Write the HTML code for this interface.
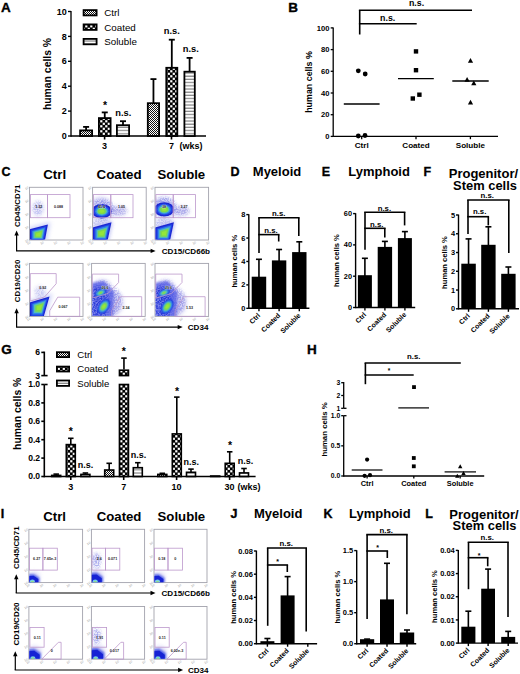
<!DOCTYPE html>
<html><head><meta charset="utf-8"><style>
html,body{margin:0;padding:0;background:#fff;width:520px;height:674px;overflow:hidden}
svg{display:block}
text{font-family:"Liberation Sans",sans-serif}
</style></head><body>
<svg width="520" height="674" viewBox="0 0 520 674">
<rect width="520" height="674" fill="#fff"/>
<defs>
<pattern id="pCtrl" width="2" height="2" patternUnits="userSpaceOnUse"><rect width="2" height="2" fill="#fff"/><rect width="1" height="1" fill="#111"/><rect x="1" y="1" width="1" height="1" fill="#111"/></pattern>
<pattern id="pCoat" width="5" height="5" patternUnits="userSpaceOnUse"><rect width="5" height="5" fill="#000"/><rect x="0.2" y="0.2" width="2.2" height="2.2" fill="#fff"/><rect x="2.7" y="2.7" width="2.2" height="2.2" fill="#fff"/></pattern>
<pattern id="pSol" width="3" height="3.2" patternUnits="userSpaceOnUse"><rect width="3" height="3.2" fill="#fff"/><rect y="2" width="3" height="1.2" fill="#858585"/></pattern>
<filter id="blur1" x="-50%" y="-50%" width="200%" height="200%"><feGaussianBlur stdDeviation="0.9"/></filter>
<filter id="blur2" x="-50%" y="-50%" width="200%" height="200%"><feGaussianBlur stdDeviation="0.55"/></filter>
<filter id="blur3" x="-50%" y="-50%" width="200%" height="200%"><feGaussianBlur stdDeviation="2"/></filter>
<filter id="speck" x="-30%" y="-30%" width="160%" height="160%"><feGaussianBlur in="SourceGraphic" stdDeviation="1.8" result="b"/><feTurbulence type="fractalNoise" baseFrequency="0.75" numOctaves="2" seed="7" result="n"/><feColorMatrix in="n" type="matrix" values="0 0 0 0 0  0 0 0 0 0  0 0 0 0 0  0 0 0 3.2 -1.1" result="m"/><feComposite in="b" in2="m" operator="in" result="s"/><feGaussianBlur in="s" stdDeviation="0.35"/></filter>
</defs>
<text x="5.80" y="11.84" font-size="13.5" font-weight="bold" text-anchor="middle" fill="#000" stroke="#000" stroke-width="0.35">A</text>
<line x1="71.00" y1="11.12" x2="71.00" y2="136.68" stroke="#000" stroke-width="1.35"/>
<line x1="68.00" y1="136.00" x2="71.00" y2="136.00" stroke="#000" stroke-width="1.35"/>
<text x="66.80" y="139.10" font-size="9" font-weight="bold" text-anchor="end" fill="#000">0</text>
<line x1="68.00" y1="111.10" x2="71.00" y2="111.10" stroke="#000" stroke-width="1.35"/>
<text x="66.80" y="114.20" font-size="9" font-weight="bold" text-anchor="end" fill="#000">2</text>
<line x1="68.00" y1="86.20" x2="71.00" y2="86.20" stroke="#000" stroke-width="1.35"/>
<text x="66.80" y="89.30" font-size="9" font-weight="bold" text-anchor="end" fill="#000">4</text>
<line x1="68.00" y1="61.30" x2="71.00" y2="61.30" stroke="#000" stroke-width="1.35"/>
<text x="66.80" y="64.40" font-size="9" font-weight="bold" text-anchor="end" fill="#000">6</text>
<line x1="68.00" y1="36.40" x2="71.00" y2="36.40" stroke="#000" stroke-width="1.35"/>
<text x="66.80" y="39.50" font-size="9" font-weight="bold" text-anchor="end" fill="#000">8</text>
<line x1="68.00" y1="11.50" x2="71.00" y2="11.50" stroke="#000" stroke-width="1.35"/>
<text x="66.80" y="14.60" font-size="9" font-weight="bold" text-anchor="end" fill="#000">10</text>
<line x1="71.00" y1="136.00" x2="206.00" y2="136.00" stroke="#000" stroke-width="1.35"/>
<line x1="104.60" y1="136.00" x2="104.60" y2="139.50" stroke="#000" stroke-width="1.6"/>
<line x1="171.50" y1="136.00" x2="171.50" y2="139.50" stroke="#000" stroke-width="1.6"/>
<text x="104.60" y="149.10" font-size="9" font-weight="bold" text-anchor="middle" fill="#000">3</text>
<text x="171.50" y="149.10" font-size="9" font-weight="bold" text-anchor="middle" fill="#000">7</text>
<text x="191.00" y="149.10" font-size="9" font-weight="bold" text-anchor="middle" fill="#000">(wks)</text>
<text x="47.80" y="77.58" font-size="10.4" font-weight="bold" text-anchor="middle" fill="#000" transform="rotate(-90 47.80 74.00)">human cells %</text>
<rect x="83.60" y="10.10" width="13.00" height="5.30" fill="url(#pCtrl)" stroke="#000" stroke-width="1.8"/>
<text x="104.20" y="16.12" font-size="9.8" font-weight="normal" text-anchor="start" fill="#000">Ctrl</text>
<rect x="83.60" y="24.40" width="13.00" height="5.50" fill="url(#pCoat)" stroke="#000" stroke-width="1.8"/>
<text x="104.20" y="30.52" font-size="9.8" font-weight="normal" text-anchor="start" fill="#000">Coated</text>
<rect x="83.60" y="38.90" width="13.00" height="5.40" fill="url(#pSol)" stroke="#000" stroke-width="1.8"/>
<text x="104.20" y="44.97" font-size="9.8" font-weight="normal" text-anchor="start" fill="#000">Soluble</text>
<line x1="86.10" y1="130.50" x2="86.10" y2="126.90" stroke="#000" stroke-width="1.8"/>
<line x1="83.10" y1="126.90" x2="89.10" y2="126.90" stroke="#000" stroke-width="1.8"/>
<rect x="80.10" y="130.40" width="12.00" height="5.60" fill="url(#pCtrl)" stroke="#000" stroke-width="1.8"/>
<line x1="104.75" y1="118.20" x2="104.75" y2="112.40" stroke="#000" stroke-width="1.8"/>
<line x1="101.75" y1="112.40" x2="107.75" y2="112.40" stroke="#000" stroke-width="1.8"/>
<rect x="98.90" y="118.10" width="11.70" height="17.90" fill="url(#pCoat)" stroke="#000" stroke-width="1.8"/>
<line x1="123.00" y1="125.30" x2="123.00" y2="121.20" stroke="#000" stroke-width="1.8"/>
<line x1="120.00" y1="121.20" x2="126.00" y2="121.20" stroke="#000" stroke-width="1.8"/>
<rect x="116.90" y="125.20" width="12.20" height="10.80" fill="url(#pSol)" stroke="#000" stroke-width="1.8"/>
<line x1="153.45" y1="103.30" x2="153.45" y2="79.10" stroke="#000" stroke-width="1.8"/>
<line x1="150.45" y1="79.10" x2="156.45" y2="79.10" stroke="#000" stroke-width="1.8"/>
<rect x="147.80" y="103.20" width="11.30" height="32.80" fill="url(#pCtrl)" stroke="#000" stroke-width="1.8"/>
<line x1="171.80" y1="67.90" x2="171.80" y2="39.70" stroke="#000" stroke-width="1.8"/>
<line x1="168.80" y1="39.70" x2="174.80" y2="39.70" stroke="#000" stroke-width="1.8"/>
<rect x="166.30" y="67.80" width="11.00" height="68.20" fill="url(#pCoat)" stroke="#000" stroke-width="1.8"/>
<line x1="189.60" y1="71.80" x2="189.60" y2="57.90" stroke="#000" stroke-width="1.8"/>
<line x1="186.60" y1="57.90" x2="192.60" y2="57.90" stroke="#000" stroke-width="1.8"/>
<rect x="184.40" y="71.70" width="10.40" height="64.30" fill="url(#pSol)" stroke="#000" stroke-width="1.8"/>
<text x="105.00" y="109.07" font-size="10.5" font-weight="bold" text-anchor="middle" fill="#000">*</text>
<text x="123.30" y="116.01" font-size="9.3" font-weight="bold" text-anchor="middle" fill="#000">n.s.</text>
<text x="171.80" y="33.51" font-size="9.3" font-weight="bold" text-anchor="middle" fill="#000">n.s.</text>
<text x="190.80" y="52.01" font-size="9.3" font-weight="bold" text-anchor="middle" fill="#000">n.s.</text>
<text x="293.20" y="12.44" font-size="13.5" font-weight="bold" text-anchor="middle" fill="#000" stroke="#000" stroke-width="0.35">B</text>
<line x1="333.20" y1="27.55" x2="333.20" y2="137.05" stroke="#000" stroke-width="1.3"/>
<line x1="330.70" y1="136.40" x2="333.20" y2="136.40" stroke="#000" stroke-width="1.3"/>
<text x="329.50" y="139.01" font-size="7.6" font-weight="bold" text-anchor="end" fill="#000">0</text>
<line x1="330.70" y1="114.70" x2="333.20" y2="114.70" stroke="#000" stroke-width="1.3"/>
<text x="329.50" y="117.31" font-size="7.6" font-weight="bold" text-anchor="end" fill="#000">20</text>
<line x1="330.70" y1="93.00" x2="333.20" y2="93.00" stroke="#000" stroke-width="1.3"/>
<text x="329.50" y="95.61" font-size="7.6" font-weight="bold" text-anchor="end" fill="#000">40</text>
<line x1="330.70" y1="71.30" x2="333.20" y2="71.30" stroke="#000" stroke-width="1.3"/>
<text x="329.50" y="73.91" font-size="7.6" font-weight="bold" text-anchor="end" fill="#000">60</text>
<line x1="330.70" y1="49.60" x2="333.20" y2="49.60" stroke="#000" stroke-width="1.3"/>
<text x="329.50" y="52.21" font-size="7.6" font-weight="bold" text-anchor="end" fill="#000">80</text>
<line x1="330.70" y1="27.90" x2="333.20" y2="27.90" stroke="#000" stroke-width="1.3"/>
<text x="329.50" y="30.51" font-size="7.6" font-weight="bold" text-anchor="end" fill="#000">100</text>
<line x1="333.20" y1="136.40" x2="498.00" y2="136.40" stroke="#000" stroke-width="1.3"/>
<line x1="361.70" y1="136.40" x2="361.70" y2="139.20" stroke="#000" stroke-width="1.3"/>
<text x="361.70" y="148.39" font-size="8.1" font-weight="bold" text-anchor="middle" fill="#000">Ctrl</text>
<line x1="416.00" y1="136.40" x2="416.00" y2="139.20" stroke="#000" stroke-width="1.3"/>
<text x="416.00" y="148.39" font-size="8.1" font-weight="bold" text-anchor="middle" fill="#000">Coated</text>
<line x1="470.40" y1="136.40" x2="470.40" y2="139.20" stroke="#000" stroke-width="1.3"/>
<text x="470.40" y="148.39" font-size="8.1" font-weight="bold" text-anchor="middle" fill="#000">Soluble</text>
<text x="309.20" y="85.06" font-size="8.9" font-weight="bold" text-anchor="middle" fill="#000" transform="rotate(-90 309.20 82.00)">human cells %</text>
<line x1="359.70" y1="10.20" x2="359.70" y2="34.50" stroke="#000" stroke-width="1.6"/>
<line x1="358.90" y1="10.20" x2="472.00" y2="10.20" stroke="#000" stroke-width="1.6"/>
<line x1="358.90" y1="23.70" x2="416.70" y2="23.70" stroke="#000" stroke-width="1.6"/>
<text x="416.50" y="5.78" font-size="8.8" font-weight="bold" text-anchor="middle" fill="#000">n.s.</text>
<text x="387.70" y="20.68" font-size="8.8" font-weight="bold" text-anchor="middle" fill="#000">n.s.</text>
<circle cx="358.3" cy="70.8" r="2.4" fill="#000"/>
<circle cx="365.2" cy="74" r="2.4" fill="#000"/>
<circle cx="358.3" cy="136" r="2.4" fill="#000"/>
<circle cx="365" cy="135.5" r="2.4" fill="#000"/>
<line x1="343.80" y1="104.00" x2="379.60" y2="104.00" stroke="#000" stroke-width="1.3"/>
<rect x="413.80" y="49.20" width="4.40" height="4.40" fill="#000" stroke="none" stroke-width="0"/>
<rect x="413.80" y="68.00" width="4.40" height="4.40" fill="#000" stroke="none" stroke-width="0"/>
<rect x="410.60" y="96.30" width="4.40" height="4.40" fill="#000" stroke="none" stroke-width="0"/>
<rect x="417.20" y="92.50" width="4.40" height="4.40" fill="#000" stroke="none" stroke-width="0"/>
<line x1="398.00" y1="78.60" x2="433.80" y2="78.60" stroke="#000" stroke-width="1.3"/>
<path d="M470.50,58.00 L473.10,62.70 L467.90,62.70 Z" fill="#000"/>
<path d="M467.10,77.00 L469.70,81.70 L464.50,81.70 Z" fill="#000"/>
<path d="M473.80,80.50 L476.40,85.20 L471.20,85.20 Z" fill="#000"/>
<path d="M470.50,99.70 L473.10,104.40 L467.90,104.40 Z" fill="#000"/>
<line x1="452.30" y1="81.00" x2="488.70" y2="81.00" stroke="#000" stroke-width="1.3"/>
<text x="234.90" y="175.90" font-size="12.5" font-weight="bold" text-anchor="middle" fill="#000" stroke="#000" stroke-width="0.35">D</text>
<text x="252.80" y="176.07" font-size="13" font-weight="bold" text-anchor="start" fill="#000">Myeloid</text>
<line x1="248.80" y1="214.20" x2="248.80" y2="309.00" stroke="#000" stroke-width="1.4"/>
<line x1="246.30" y1="308.30" x2="248.80" y2="308.30" stroke="#000" stroke-width="1.4"/>
<text x="245.30" y="310.85" font-size="7.4" font-weight="bold" text-anchor="end" fill="#000">0</text>
<line x1="246.30" y1="284.88" x2="248.80" y2="284.88" stroke="#000" stroke-width="1.4"/>
<text x="245.30" y="287.42" font-size="7.4" font-weight="bold" text-anchor="end" fill="#000">2</text>
<line x1="246.30" y1="261.45" x2="248.80" y2="261.45" stroke="#000" stroke-width="1.4"/>
<text x="245.30" y="264.00" font-size="7.4" font-weight="bold" text-anchor="end" fill="#000">4</text>
<line x1="246.30" y1="238.03" x2="248.80" y2="238.03" stroke="#000" stroke-width="1.4"/>
<text x="245.30" y="240.57" font-size="7.4" font-weight="bold" text-anchor="end" fill="#000">6</text>
<line x1="246.30" y1="214.60" x2="248.80" y2="214.60" stroke="#000" stroke-width="1.4"/>
<text x="245.30" y="217.15" font-size="7.4" font-weight="bold" text-anchor="end" fill="#000">8</text>
<line x1="248.80" y1="308.30" x2="309.40" y2="308.30" stroke="#000" stroke-width="1.4"/>
<line x1="258.95" y1="308.30" x2="258.95" y2="311.30" stroke="#000" stroke-width="1.4"/>
<line x1="258.95" y1="277.70" x2="258.95" y2="259.30" stroke="#000" stroke-width="1.6"/>
<line x1="255.95" y1="259.30" x2="261.95" y2="259.30" stroke="#000" stroke-width="1.6"/>
<rect x="251.70" y="276.70" width="14.50" height="31.60" fill="#000" stroke="none" stroke-width="0"/>
<line x1="279.10" y1="308.30" x2="279.10" y2="311.30" stroke="#000" stroke-width="1.4"/>
<line x1="279.10" y1="261.40" x2="279.10" y2="249.50" stroke="#000" stroke-width="1.6"/>
<line x1="276.10" y1="249.50" x2="282.10" y2="249.50" stroke="#000" stroke-width="1.6"/>
<rect x="271.90" y="260.40" width="14.40" height="47.90" fill="#000" stroke="none" stroke-width="0"/>
<line x1="299.30" y1="308.30" x2="299.30" y2="311.30" stroke="#000" stroke-width="1.4"/>
<line x1="299.30" y1="253.10" x2="299.30" y2="241.80" stroke="#000" stroke-width="1.6"/>
<line x1="296.30" y1="241.80" x2="302.30" y2="241.80" stroke="#000" stroke-width="1.6"/>
<rect x="292.10" y="252.10" width="14.40" height="56.20" fill="#000" stroke="none" stroke-width="0"/>
<text x="260.75" y="315.90" font-size="7.0" font-weight="bold" text-anchor="end" transform="rotate(-45 260.75 315.90)">Ctrl</text>
<text x="280.90" y="315.90" font-size="7.0" font-weight="bold" text-anchor="end" transform="rotate(-45 280.90 315.90)">Coated</text>
<text x="301.10" y="315.90" font-size="7.0" font-weight="bold" text-anchor="end" transform="rotate(-45 301.10 315.90)">Soluble</text>
<line x1="259.00" y1="217.70" x2="259.00" y2="253.00" stroke="#000" stroke-width="1.6"/>
<line x1="258.20" y1="217.70" x2="299.60" y2="217.70" stroke="#000" stroke-width="1.6"/>
<line x1="298.80" y1="217.70" x2="298.80" y2="236.00" stroke="#000" stroke-width="1.6"/>
<line x1="258.20" y1="234.60" x2="279.50" y2="234.60" stroke="#000" stroke-width="1.6"/>
<line x1="278.70" y1="234.60" x2="278.70" y2="241.50" stroke="#000" stroke-width="1.6"/>
<text x="234.90" y="263.81" font-size="7.6" font-weight="bold" text-anchor="middle" fill="#000" transform="rotate(-90 234.90 261.20)">human cells %</text>
<text x="278.70" y="216.31" font-size="7.8" font-weight="bold" text-anchor="middle" fill="#000">n.s.</text>
<text x="271.00" y="232.91" font-size="7.8" font-weight="bold" text-anchor="middle" fill="#000">n.s.</text>
<text x="326.00" y="175.90" font-size="12.5" font-weight="bold" text-anchor="middle" fill="#000" stroke="#000" stroke-width="0.35">E</text>
<text x="348.30" y="176.07" font-size="13" font-weight="bold" text-anchor="start" fill="#000">Lymphoid</text>
<line x1="355.60" y1="213.20" x2="355.60" y2="308.20" stroke="#000" stroke-width="1.4"/>
<line x1="353.10" y1="307.50" x2="355.60" y2="307.50" stroke="#000" stroke-width="1.4"/>
<text x="352.10" y="310.05" font-size="7.4" font-weight="bold" text-anchor="end" fill="#000">0</text>
<line x1="353.10" y1="276.20" x2="355.60" y2="276.20" stroke="#000" stroke-width="1.4"/>
<text x="352.10" y="278.75" font-size="7.4" font-weight="bold" text-anchor="end" fill="#000">20</text>
<line x1="353.10" y1="244.90" x2="355.60" y2="244.90" stroke="#000" stroke-width="1.4"/>
<text x="352.10" y="247.45" font-size="7.4" font-weight="bold" text-anchor="end" fill="#000">40</text>
<line x1="353.10" y1="213.60" x2="355.60" y2="213.60" stroke="#000" stroke-width="1.4"/>
<text x="352.10" y="216.15" font-size="7.4" font-weight="bold" text-anchor="end" fill="#000">60</text>
<line x1="355.60" y1="307.50" x2="415.20" y2="307.50" stroke="#000" stroke-width="1.4"/>
<line x1="364.90" y1="307.50" x2="364.90" y2="310.50" stroke="#000" stroke-width="1.4"/>
<line x1="364.90" y1="276.20" x2="364.90" y2="258.30" stroke="#000" stroke-width="1.6"/>
<line x1="361.90" y1="258.30" x2="367.90" y2="258.30" stroke="#000" stroke-width="1.6"/>
<rect x="357.90" y="275.20" width="14.00" height="32.30" fill="#000" stroke="none" stroke-width="0"/>
<line x1="384.90" y1="307.50" x2="384.90" y2="310.50" stroke="#000" stroke-width="1.4"/>
<line x1="384.90" y1="247.90" x2="384.90" y2="241.40" stroke="#000" stroke-width="1.6"/>
<line x1="381.90" y1="241.40" x2="387.90" y2="241.40" stroke="#000" stroke-width="1.6"/>
<rect x="377.70" y="246.90" width="14.40" height="60.60" fill="#000" stroke="none" stroke-width="0"/>
<line x1="404.90" y1="307.50" x2="404.90" y2="310.50" stroke="#000" stroke-width="1.4"/>
<line x1="404.90" y1="239.10" x2="404.90" y2="231.60" stroke="#000" stroke-width="1.6"/>
<line x1="401.90" y1="231.60" x2="407.90" y2="231.60" stroke="#000" stroke-width="1.6"/>
<rect x="397.90" y="238.10" width="14.00" height="69.40" fill="#000" stroke="none" stroke-width="0"/>
<text x="366.70" y="315.10" font-size="7.0" font-weight="bold" text-anchor="end" transform="rotate(-45 366.70 315.10)">Ctrl</text>
<text x="386.70" y="315.10" font-size="7.0" font-weight="bold" text-anchor="end" transform="rotate(-45 386.70 315.10)">Coated</text>
<text x="406.70" y="315.10" font-size="7.0" font-weight="bold" text-anchor="end" transform="rotate(-45 406.70 315.10)">Soluble</text>
<line x1="365.00" y1="212.30" x2="365.00" y2="249.80" stroke="#000" stroke-width="1.6"/>
<line x1="364.20" y1="212.30" x2="405.40" y2="212.30" stroke="#000" stroke-width="1.6"/>
<line x1="404.60" y1="212.30" x2="404.60" y2="225.40" stroke="#000" stroke-width="1.6"/>
<line x1="364.20" y1="228.30" x2="385.60" y2="228.30" stroke="#000" stroke-width="1.6"/>
<line x1="384.80" y1="228.30" x2="384.80" y2="237.50" stroke="#000" stroke-width="1.6"/>
<text x="336.70" y="263.11" font-size="7.6" font-weight="bold" text-anchor="middle" fill="#000" transform="rotate(-90 336.70 260.50)">human cells %</text>
<text x="384.40" y="211.11" font-size="7.8" font-weight="bold" text-anchor="middle" fill="#000">n.s.</text>
<text x="376.70" y="226.91" font-size="7.8" font-weight="bold" text-anchor="middle" fill="#000">n.s.</text>
<text x="427.40" y="175.90" font-size="12.5" font-weight="bold" text-anchor="middle" fill="#000" stroke="#000" stroke-width="0.35">F</text>
<text x="483.40" y="177.87" font-size="13" font-weight="bold" text-anchor="middle" fill="#000">Progenitor/</text>
<text x="485.00" y="189.74" font-size="12.9" font-weight="bold" text-anchor="middle" fill="#000">Stem cells</text>
<line x1="458.50" y1="214.60" x2="458.50" y2="309.50" stroke="#000" stroke-width="1.4"/>
<line x1="456.00" y1="308.80" x2="458.50" y2="308.80" stroke="#000" stroke-width="1.4"/>
<text x="455.00" y="311.35" font-size="7.4" font-weight="bold" text-anchor="end" fill="#000">0</text>
<line x1="456.00" y1="290.04" x2="458.50" y2="290.04" stroke="#000" stroke-width="1.4"/>
<text x="455.00" y="292.59" font-size="7.4" font-weight="bold" text-anchor="end" fill="#000">1</text>
<line x1="456.00" y1="271.28" x2="458.50" y2="271.28" stroke="#000" stroke-width="1.4"/>
<text x="455.00" y="273.83" font-size="7.4" font-weight="bold" text-anchor="end" fill="#000">2</text>
<line x1="456.00" y1="252.52" x2="458.50" y2="252.52" stroke="#000" stroke-width="1.4"/>
<text x="455.00" y="255.07" font-size="7.4" font-weight="bold" text-anchor="end" fill="#000">3</text>
<line x1="456.00" y1="233.76" x2="458.50" y2="233.76" stroke="#000" stroke-width="1.4"/>
<text x="455.00" y="236.31" font-size="7.4" font-weight="bold" text-anchor="end" fill="#000">4</text>
<line x1="456.00" y1="215.00" x2="458.50" y2="215.00" stroke="#000" stroke-width="1.4"/>
<text x="455.00" y="217.55" font-size="7.4" font-weight="bold" text-anchor="end" fill="#000">5</text>
<line x1="458.50" y1="308.80" x2="519.00" y2="308.80" stroke="#000" stroke-width="1.4"/>
<line x1="468.55" y1="308.80" x2="468.55" y2="311.80" stroke="#000" stroke-width="1.4"/>
<line x1="468.55" y1="264.70" x2="468.55" y2="238.90" stroke="#000" stroke-width="1.6"/>
<line x1="465.55" y1="238.90" x2="471.55" y2="238.90" stroke="#000" stroke-width="1.6"/>
<rect x="461.30" y="263.70" width="14.50" height="45.10" fill="#000" stroke="none" stroke-width="0"/>
<line x1="488.40" y1="308.80" x2="488.40" y2="311.80" stroke="#000" stroke-width="1.4"/>
<line x1="488.40" y1="245.80" x2="488.40" y2="226.80" stroke="#000" stroke-width="1.6"/>
<line x1="485.40" y1="226.80" x2="491.40" y2="226.80" stroke="#000" stroke-width="1.6"/>
<rect x="481.20" y="244.80" width="14.40" height="64.00" fill="#000" stroke="none" stroke-width="0"/>
<line x1="508.40" y1="308.80" x2="508.40" y2="311.80" stroke="#000" stroke-width="1.4"/>
<line x1="508.40" y1="274.80" x2="508.40" y2="267.00" stroke="#000" stroke-width="1.6"/>
<line x1="505.40" y1="267.00" x2="511.40" y2="267.00" stroke="#000" stroke-width="1.6"/>
<rect x="501.20" y="273.80" width="14.40" height="35.00" fill="#000" stroke="none" stroke-width="0"/>
<text x="470.35" y="316.40" font-size="7.0" font-weight="bold" text-anchor="end" transform="rotate(-45 470.35 316.40)">Ctrl</text>
<text x="490.20" y="316.40" font-size="7.0" font-weight="bold" text-anchor="end" transform="rotate(-45 490.20 316.40)">Coated</text>
<text x="510.20" y="316.40" font-size="7.0" font-weight="bold" text-anchor="end" transform="rotate(-45 510.20 316.40)">Soluble</text>
<line x1="468.00" y1="200.00" x2="468.00" y2="234.00" stroke="#000" stroke-width="1.6"/>
<line x1="467.20" y1="200.00" x2="509.60" y2="200.00" stroke="#000" stroke-width="1.6"/>
<line x1="508.80" y1="200.00" x2="508.80" y2="253.00" stroke="#000" stroke-width="1.6"/>
<line x1="467.20" y1="216.70" x2="489.10" y2="216.70" stroke="#000" stroke-width="1.6"/>
<line x1="488.30" y1="216.70" x2="488.30" y2="225.40" stroke="#000" stroke-width="1.6"/>
<text x="444.20" y="265.11" font-size="7.6" font-weight="bold" text-anchor="middle" fill="#000" transform="rotate(-90 444.20 262.50)">human cells %</text>
<text x="487.30" y="198.31" font-size="7.8" font-weight="bold" text-anchor="middle" fill="#000">n.s.</text>
<text x="479.60" y="213.61" font-size="7.8" font-weight="bold" text-anchor="middle" fill="#000">n.s.</text>
<text x="234.00" y="518.10" font-size="12.5" font-weight="bold" text-anchor="middle" fill="#000" stroke="#000" stroke-width="0.35">J</text>
<text x="254.00" y="518.27" font-size="13" font-weight="bold" text-anchor="start" fill="#000">Myeloid</text>
<line x1="256.40" y1="550.60" x2="256.40" y2="644.40" stroke="#000" stroke-width="1.4"/>
<line x1="253.90" y1="643.70" x2="256.40" y2="643.70" stroke="#000" stroke-width="1.4"/>
<text x="252.90" y="646.28" font-size="7.5" font-weight="bold" text-anchor="end" fill="#000">0.00</text>
<line x1="253.90" y1="620.53" x2="256.40" y2="620.53" stroke="#000" stroke-width="1.4"/>
<text x="252.90" y="623.11" font-size="7.5" font-weight="bold" text-anchor="end" fill="#000">0.02</text>
<line x1="253.90" y1="597.35" x2="256.40" y2="597.35" stroke="#000" stroke-width="1.4"/>
<text x="252.90" y="599.93" font-size="7.5" font-weight="bold" text-anchor="end" fill="#000">0.04</text>
<line x1="253.90" y1="574.18" x2="256.40" y2="574.18" stroke="#000" stroke-width="1.4"/>
<text x="252.90" y="576.76" font-size="7.5" font-weight="bold" text-anchor="end" fill="#000">0.06</text>
<line x1="253.90" y1="551.00" x2="256.40" y2="551.00" stroke="#000" stroke-width="1.4"/>
<text x="252.90" y="553.58" font-size="7.5" font-weight="bold" text-anchor="end" fill="#000">0.08</text>
<line x1="256.40" y1="643.70" x2="317.10" y2="643.70" stroke="#000" stroke-width="1.4"/>
<line x1="267.40" y1="643.70" x2="267.40" y2="646.70" stroke="#000" stroke-width="1.4"/>
<line x1="267.40" y1="642.20" x2="267.40" y2="638.50" stroke="#000" stroke-width="1.6"/>
<line x1="264.40" y1="638.50" x2="270.40" y2="638.50" stroke="#000" stroke-width="1.6"/>
<rect x="260.40" y="641.20" width="14.00" height="2.50" fill="#000" stroke="none" stroke-width="0"/>
<line x1="287.60" y1="643.70" x2="287.60" y2="646.70" stroke="#000" stroke-width="1.4"/>
<line x1="287.60" y1="596.40" x2="287.60" y2="576.60" stroke="#000" stroke-width="1.6"/>
<line x1="284.60" y1="576.60" x2="290.60" y2="576.60" stroke="#000" stroke-width="1.6"/>
<rect x="280.60" y="595.40" width="14.00" height="48.30" fill="#000" stroke="none" stroke-width="0"/>
<line x1="307.80" y1="643.70" x2="307.80" y2="646.70" stroke="#000" stroke-width="1.4"/>
<text x="269.20" y="651.30" font-size="7.0" font-weight="bold" text-anchor="end" transform="rotate(-45 269.20 651.30)">Ctrl</text>
<text x="289.40" y="651.30" font-size="7.0" font-weight="bold" text-anchor="end" transform="rotate(-45 289.40 651.30)">Coated</text>
<text x="309.60" y="651.30" font-size="7.0" font-weight="bold" text-anchor="end" transform="rotate(-45 309.60 651.30)">Soluble</text>
<line x1="267.70" y1="548.00" x2="267.70" y2="625.80" stroke="#000" stroke-width="1.6"/>
<line x1="266.90" y1="548.00" x2="307.00" y2="548.00" stroke="#000" stroke-width="1.6"/>
<line x1="306.20" y1="548.00" x2="306.20" y2="631.50" stroke="#000" stroke-width="1.6"/>
<line x1="266.90" y1="565.00" x2="288.10" y2="565.00" stroke="#000" stroke-width="1.6"/>
<line x1="287.30" y1="565.00" x2="287.30" y2="572.00" stroke="#000" stroke-width="1.6"/>
<text x="233.30" y="600.01" font-size="7.6" font-weight="bold" text-anchor="middle" fill="#000" transform="rotate(-90 233.30 597.40)">human cells %</text>
<text x="286.30" y="546.31" font-size="7.8" font-weight="bold" text-anchor="middle" fill="#000">n.s.</text>
<text x="277.70" y="563.51" font-size="7" font-weight="bold" text-anchor="middle" fill="#000">*</text>
<text x="328.10" y="518.10" font-size="12.5" font-weight="bold" text-anchor="middle" fill="#000" stroke="#000" stroke-width="0.35">K</text>
<text x="349.00" y="518.27" font-size="13" font-weight="bold" text-anchor="start" fill="#000">Lymphoid</text>
<line x1="356.70" y1="550.20" x2="356.70" y2="644.40" stroke="#000" stroke-width="1.4"/>
<line x1="354.20" y1="643.70" x2="356.70" y2="643.70" stroke="#000" stroke-width="1.4"/>
<text x="353.20" y="646.28" font-size="7.5" font-weight="bold" text-anchor="end" fill="#000">0.0</text>
<line x1="354.20" y1="612.67" x2="356.70" y2="612.67" stroke="#000" stroke-width="1.4"/>
<text x="353.20" y="615.25" font-size="7.5" font-weight="bold" text-anchor="end" fill="#000">0.5</text>
<line x1="354.20" y1="581.63" x2="356.70" y2="581.63" stroke="#000" stroke-width="1.4"/>
<text x="353.20" y="584.21" font-size="7.5" font-weight="bold" text-anchor="end" fill="#000">1.0</text>
<line x1="354.20" y1="550.60" x2="356.70" y2="550.60" stroke="#000" stroke-width="1.4"/>
<text x="353.20" y="553.18" font-size="7.5" font-weight="bold" text-anchor="end" fill="#000">1.5</text>
<line x1="356.70" y1="643.70" x2="416.20" y2="643.70" stroke="#000" stroke-width="1.4"/>
<line x1="367.10" y1="643.70" x2="367.10" y2="646.70" stroke="#000" stroke-width="1.4"/>
<line x1="367.10" y1="640.20" x2="367.10" y2="639.10" stroke="#000" stroke-width="1.6"/>
<line x1="364.10" y1="639.10" x2="370.10" y2="639.10" stroke="#000" stroke-width="1.6"/>
<rect x="360.00" y="639.20" width="14.20" height="4.50" fill="#000" stroke="none" stroke-width="0"/>
<line x1="387.00" y1="643.70" x2="387.00" y2="646.70" stroke="#000" stroke-width="1.4"/>
<line x1="387.00" y1="600.40" x2="387.00" y2="563.30" stroke="#000" stroke-width="1.6"/>
<line x1="384.00" y1="563.30" x2="390.00" y2="563.30" stroke="#000" stroke-width="1.6"/>
<rect x="380.00" y="599.40" width="14.00" height="44.30" fill="#000" stroke="none" stroke-width="0"/>
<line x1="407.00" y1="643.70" x2="407.00" y2="646.70" stroke="#000" stroke-width="1.4"/>
<line x1="407.00" y1="633.50" x2="407.00" y2="630.00" stroke="#000" stroke-width="1.6"/>
<line x1="404.00" y1="630.00" x2="410.00" y2="630.00" stroke="#000" stroke-width="1.6"/>
<rect x="399.80" y="632.50" width="14.40" height="11.20" fill="#000" stroke="none" stroke-width="0"/>
<text x="368.90" y="651.30" font-size="7.0" font-weight="bold" text-anchor="end" transform="rotate(-45 368.90 651.30)">Ctrl</text>
<text x="388.80" y="651.30" font-size="7.0" font-weight="bold" text-anchor="end" transform="rotate(-45 388.80 651.30)">Coated</text>
<text x="408.80" y="651.30" font-size="7.0" font-weight="bold" text-anchor="end" transform="rotate(-45 408.80 651.30)">Soluble</text>
<line x1="367.10" y1="534.60" x2="367.10" y2="619.00" stroke="#000" stroke-width="1.6"/>
<line x1="366.30" y1="534.60" x2="407.70" y2="534.60" stroke="#000" stroke-width="1.6"/>
<line x1="406.90" y1="534.60" x2="406.90" y2="614.20" stroke="#000" stroke-width="1.6"/>
<line x1="366.30" y1="551.00" x2="388.10" y2="551.00" stroke="#000" stroke-width="1.6"/>
<line x1="387.30" y1="551.00" x2="387.30" y2="558.00" stroke="#000" stroke-width="1.6"/>
<text x="337.50" y="599.71" font-size="7.6" font-weight="bold" text-anchor="middle" fill="#000" transform="rotate(-90 337.50 597.10)">human cells %</text>
<text x="386.30" y="532.91" font-size="7.8" font-weight="bold" text-anchor="middle" fill="#000">n.s.</text>
<text x="377.70" y="549.71" font-size="7" font-weight="bold" text-anchor="middle" fill="#000">*</text>
<text x="429.00" y="518.10" font-size="12.5" font-weight="bold" text-anchor="middle" fill="#000" stroke="#000" stroke-width="0.35">L</text>
<text x="484.00" y="518.87" font-size="13" font-weight="bold" text-anchor="middle" fill="#000">Progenitor/</text>
<text x="484.50" y="529.74" font-size="12.9" font-weight="bold" text-anchor="middle" fill="#000">Stem cells</text>
<line x1="458.30" y1="550.00" x2="458.30" y2="643.80" stroke="#000" stroke-width="1.4"/>
<line x1="455.80" y1="643.10" x2="458.30" y2="643.10" stroke="#000" stroke-width="1.4"/>
<text x="454.80" y="645.68" font-size="7.5" font-weight="bold" text-anchor="end" fill="#000">0.00</text>
<line x1="455.80" y1="619.93" x2="458.30" y2="619.93" stroke="#000" stroke-width="1.4"/>
<text x="454.80" y="622.51" font-size="7.5" font-weight="bold" text-anchor="end" fill="#000">0.01</text>
<line x1="455.80" y1="596.75" x2="458.30" y2="596.75" stroke="#000" stroke-width="1.4"/>
<text x="454.80" y="599.33" font-size="7.5" font-weight="bold" text-anchor="end" fill="#000">0.02</text>
<line x1="455.80" y1="573.58" x2="458.30" y2="573.58" stroke="#000" stroke-width="1.4"/>
<text x="454.80" y="576.16" font-size="7.5" font-weight="bold" text-anchor="end" fill="#000">0.03</text>
<line x1="455.80" y1="550.40" x2="458.30" y2="550.40" stroke="#000" stroke-width="1.4"/>
<text x="454.80" y="552.98" font-size="7.5" font-weight="bold" text-anchor="end" fill="#000">0.04</text>
<line x1="458.30" y1="643.10" x2="518.00" y2="643.10" stroke="#000" stroke-width="1.4"/>
<line x1="468.35" y1="643.10" x2="468.35" y2="646.10" stroke="#000" stroke-width="1.4"/>
<line x1="468.35" y1="627.70" x2="468.35" y2="611.20" stroke="#000" stroke-width="1.6"/>
<line x1="465.35" y1="611.20" x2="471.35" y2="611.20" stroke="#000" stroke-width="1.6"/>
<rect x="461.30" y="626.70" width="14.10" height="16.40" fill="#000" stroke="none" stroke-width="0"/>
<line x1="488.10" y1="643.10" x2="488.10" y2="646.10" stroke="#000" stroke-width="1.4"/>
<line x1="488.10" y1="589.70" x2="488.10" y2="569.10" stroke="#000" stroke-width="1.6"/>
<line x1="485.10" y1="569.10" x2="491.10" y2="569.10" stroke="#000" stroke-width="1.6"/>
<rect x="481.20" y="588.70" width="13.80" height="54.40" fill="#000" stroke="none" stroke-width="0"/>
<line x1="508.20" y1="643.10" x2="508.20" y2="646.10" stroke="#000" stroke-width="1.4"/>
<line x1="508.20" y1="637.90" x2="508.20" y2="631.40" stroke="#000" stroke-width="1.6"/>
<line x1="505.20" y1="631.40" x2="511.20" y2="631.40" stroke="#000" stroke-width="1.6"/>
<rect x="501.20" y="636.90" width="14.00" height="6.20" fill="#000" stroke="none" stroke-width="0"/>
<text x="470.15" y="650.70" font-size="7.0" font-weight="bold" text-anchor="end" transform="rotate(-45 470.15 650.70)">Ctrl</text>
<text x="489.90" y="650.70" font-size="7.0" font-weight="bold" text-anchor="end" transform="rotate(-45 489.90 650.70)">Coated</text>
<text x="510.00" y="650.70" font-size="7.0" font-weight="bold" text-anchor="end" transform="rotate(-45 510.00 650.70)">Soluble</text>
<line x1="468.50" y1="542.30" x2="468.50" y2="589.20" stroke="#000" stroke-width="1.6"/>
<line x1="467.70" y1="542.30" x2="508.80" y2="542.30" stroke="#000" stroke-width="1.6"/>
<line x1="508.00" y1="542.30" x2="508.00" y2="617.10" stroke="#000" stroke-width="1.6"/>
<line x1="467.70" y1="557.70" x2="488.50" y2="557.70" stroke="#000" stroke-width="1.6"/>
<line x1="487.70" y1="557.70" x2="487.70" y2="566.30" stroke="#000" stroke-width="1.6"/>
<text x="434.70" y="599.11" font-size="7.6" font-weight="bold" text-anchor="middle" fill="#000" transform="rotate(-90 434.70 596.50)">human cells %</text>
<text x="487.30" y="540.11" font-size="7.8" font-weight="bold" text-anchor="middle" fill="#000">n.s.</text>
<text x="479.20" y="557.71" font-size="7" font-weight="bold" text-anchor="middle" fill="#000">*</text>
<text x="6.40" y="353.94" font-size="13.5" font-weight="bold" text-anchor="middle" fill="#000" stroke="#000" stroke-width="0.35">G</text>
<line x1="44.30" y1="384.50" x2="44.30" y2="477.30" stroke="#000" stroke-width="1.6"/>
<line x1="41.30" y1="476.50" x2="44.30" y2="476.50" stroke="#000" stroke-width="1.6"/>
<text x="40.10" y="479.46" font-size="8.6" font-weight="bold" text-anchor="end" fill="#000">0.0</text>
<line x1="41.30" y1="458.10" x2="44.30" y2="458.10" stroke="#000" stroke-width="1.6"/>
<text x="40.10" y="461.06" font-size="8.6" font-weight="bold" text-anchor="end" fill="#000">0.2</text>
<line x1="41.30" y1="439.70" x2="44.30" y2="439.70" stroke="#000" stroke-width="1.6"/>
<text x="40.10" y="442.66" font-size="8.6" font-weight="bold" text-anchor="end" fill="#000">0.4</text>
<line x1="41.30" y1="421.30" x2="44.30" y2="421.30" stroke="#000" stroke-width="1.6"/>
<text x="40.10" y="424.26" font-size="8.6" font-weight="bold" text-anchor="end" fill="#000">0.6</text>
<line x1="41.30" y1="402.90" x2="44.30" y2="402.90" stroke="#000" stroke-width="1.6"/>
<text x="40.10" y="405.86" font-size="8.6" font-weight="bold" text-anchor="end" fill="#000">0.8</text>
<line x1="41.30" y1="384.50" x2="44.30" y2="384.50" stroke="#000" stroke-width="1.6"/>
<text x="40.10" y="387.46" font-size="8.6" font-weight="bold" text-anchor="end" fill="#000">1.0</text>
<line x1="44.30" y1="384.50" x2="47.60" y2="384.50" stroke="#000" stroke-width="1.6"/>
<line x1="44.30" y1="351.60" x2="44.30" y2="375.60" stroke="#000" stroke-width="1.6"/>
<line x1="41.30" y1="352.40" x2="44.30" y2="352.40" stroke="#000" stroke-width="1.6"/>
<line x1="41.30" y1="375.60" x2="47.60" y2="375.60" stroke="#000" stroke-width="1.6"/>
<text x="40.10" y="355.36" font-size="8.6" font-weight="bold" text-anchor="end" fill="#000">6</text>
<text x="40.10" y="378.56" font-size="8.6" font-weight="bold" text-anchor="end" fill="#000">3</text>
<line x1="44.30" y1="476.50" x2="255.60" y2="476.50" stroke="#000" stroke-width="1.6"/>
<line x1="70.80" y1="476.50" x2="70.80" y2="480.00" stroke="#000" stroke-width="1.6"/>
<text x="70.80" y="490.10" font-size="9" font-weight="bold" text-anchor="middle" fill="#000">3</text>
<line x1="123.70" y1="476.50" x2="123.70" y2="480.00" stroke="#000" stroke-width="1.6"/>
<text x="123.70" y="490.10" font-size="9" font-weight="bold" text-anchor="middle" fill="#000">7</text>
<line x1="176.60" y1="476.50" x2="176.60" y2="480.00" stroke="#000" stroke-width="1.6"/>
<text x="176.60" y="490.10" font-size="9" font-weight="bold" text-anchor="middle" fill="#000">10</text>
<line x1="229.60" y1="476.50" x2="229.60" y2="480.00" stroke="#000" stroke-width="1.6"/>
<text x="229.60" y="490.10" font-size="9" font-weight="bold" text-anchor="middle" fill="#000">30</text>
<text x="249.00" y="490.10" font-size="9" font-weight="bold" text-anchor="middle" fill="#000">(wks)</text>
<text x="17.80" y="417.38" font-size="10.4" font-weight="bold" text-anchor="middle" fill="#000" transform="rotate(-90 17.80 413.80)">human cells %</text>
<rect x="56.90" y="352.20" width="12.20" height="4.90" fill="url(#pCtrl)" stroke="#000" stroke-width="1.8"/>
<text x="77.30" y="357.95" font-size="9.6" font-weight="normal" text-anchor="start" fill="#000">Ctrl</text>
<rect x="56.90" y="366.60" width="12.20" height="4.90" fill="url(#pCoat)" stroke="#000" stroke-width="1.8"/>
<text x="77.30" y="372.35" font-size="9.6" font-weight="normal" text-anchor="start" fill="#000">Coated</text>
<rect x="56.90" y="380.50" width="12.20" height="5.40" fill="url(#pSol)" stroke="#000" stroke-width="1.8"/>
<text x="77.30" y="386.50" font-size="9.6" font-weight="normal" text-anchor="start" fill="#000">Soluble</text>
<line x1="56.20" y1="475.60" x2="56.20" y2="474.10" stroke="#000" stroke-width="1.6"/>
<line x1="53.45" y1="474.10" x2="58.95" y2="474.10" stroke="#000" stroke-width="1.6"/>
<rect x="51.70" y="475.40" width="9.00" height="1.10" fill="url(#pCtrl)" stroke="#000" stroke-width="1.6"/>
<line x1="70.80" y1="444.80" x2="70.80" y2="438.30" stroke="#000" stroke-width="1.6"/>
<line x1="68.05" y1="438.30" x2="73.55" y2="438.30" stroke="#000" stroke-width="1.6"/>
<rect x="66.30" y="444.60" width="9.00" height="31.90" fill="url(#pCoat)" stroke="#000" stroke-width="1.6"/>
<line x1="85.40" y1="474.60" x2="85.40" y2="473.00" stroke="#000" stroke-width="1.6"/>
<line x1="82.65" y1="473.00" x2="88.15" y2="473.00" stroke="#000" stroke-width="1.6"/>
<rect x="80.90" y="474.40" width="9.00" height="2.10" fill="url(#pSol)" stroke="#000" stroke-width="1.6"/>
<line x1="109.20" y1="470.20" x2="109.20" y2="463.30" stroke="#000" stroke-width="1.6"/>
<line x1="106.45" y1="463.30" x2="111.95" y2="463.30" stroke="#000" stroke-width="1.6"/>
<rect x="104.70" y="470.00" width="9.00" height="6.50" fill="url(#pCtrl)" stroke="#000" stroke-width="1.6"/>
<line x1="137.80" y1="467.90" x2="137.80" y2="462.70" stroke="#000" stroke-width="1.6"/>
<line x1="135.05" y1="462.70" x2="140.55" y2="462.70" stroke="#000" stroke-width="1.6"/>
<rect x="133.30" y="467.70" width="9.00" height="8.80" fill="url(#pSol)" stroke="#000" stroke-width="1.6"/>
<line x1="162.30" y1="474.60" x2="162.30" y2="473.30" stroke="#000" stroke-width="1.6"/>
<line x1="159.55" y1="473.30" x2="165.05" y2="473.30" stroke="#000" stroke-width="1.6"/>
<rect x="157.80" y="474.40" width="9.00" height="2.10" fill="url(#pCtrl)" stroke="#000" stroke-width="1.6"/>
<line x1="176.80" y1="434.10" x2="176.80" y2="397.10" stroke="#000" stroke-width="1.6"/>
<line x1="174.05" y1="397.10" x2="179.55" y2="397.10" stroke="#000" stroke-width="1.6"/>
<rect x="172.30" y="433.90" width="9.00" height="42.60" fill="url(#pCoat)" stroke="#000" stroke-width="1.6"/>
<line x1="191.00" y1="472.50" x2="191.00" y2="469.10" stroke="#000" stroke-width="1.6"/>
<line x1="188.25" y1="469.10" x2="193.75" y2="469.10" stroke="#000" stroke-width="1.6"/>
<rect x="186.50" y="472.30" width="9.00" height="4.20" fill="url(#pSol)" stroke="#000" stroke-width="1.6"/>
<rect x="210.70" y="476.00" width="9.00" height="0.50" fill="url(#pCtrl)" stroke="#000" stroke-width="1.6"/>
<line x1="229.70" y1="463.50" x2="229.70" y2="451.80" stroke="#000" stroke-width="1.6"/>
<line x1="226.95" y1="451.80" x2="232.45" y2="451.80" stroke="#000" stroke-width="1.6"/>
<rect x="225.20" y="463.30" width="9.00" height="13.20" fill="url(#pCoat)" stroke="#000" stroke-width="1.6"/>
<line x1="244.00" y1="473.10" x2="244.00" y2="468.50" stroke="#000" stroke-width="1.6"/>
<line x1="241.25" y1="468.50" x2="246.75" y2="468.50" stroke="#000" stroke-width="1.6"/>
<rect x="239.50" y="472.90" width="9.00" height="3.60" fill="url(#pSol)" stroke="#000" stroke-width="1.6"/>
<rect x="119.45" y="384.50" width="9.00" height="92.00" fill="url(#pCoat)" stroke="#000" stroke-width="1.6"/>
<line x1="123.95" y1="369.40" x2="123.95" y2="358.10" stroke="#000" stroke-width="1.6"/>
<line x1="121.20" y1="358.10" x2="126.70" y2="358.10" stroke="#000" stroke-width="1.6"/>
<rect x="119.45" y="370.20" width="9.00" height="5.40" fill="url(#pCoat)" stroke="#000" stroke-width="1.6"/>
<text x="70.80" y="435.07" font-size="10.5" font-weight="bold" text-anchor="middle" fill="#000">*</text>
<text x="123.90" y="354.87" font-size="10.5" font-weight="bold" text-anchor="middle" fill="#000">*</text>
<text x="177.00" y="395.27" font-size="10.5" font-weight="bold" text-anchor="middle" fill="#000">*</text>
<text x="230.00" y="449.07" font-size="10.5" font-weight="bold" text-anchor="middle" fill="#000">*</text>
<text x="85.60" y="468.23" font-size="9" font-weight="bold" text-anchor="middle" fill="#000">n.s.</text>
<text x="138.50" y="457.83" font-size="9" font-weight="bold" text-anchor="middle" fill="#000">n.s.</text>
<text x="191.20" y="464.93" font-size="9" font-weight="bold" text-anchor="middle" fill="#000">n.s.</text>
<text x="245.60" y="463.93" font-size="9" font-weight="bold" text-anchor="middle" fill="#000">n.s.</text>
<text x="311.80" y="353.64" font-size="13.5" font-weight="bold" text-anchor="middle" fill="#000" stroke="#000" stroke-width="0.35">H</text>
<line x1="343.70" y1="415.70" x2="343.70" y2="476.70" stroke="#000" stroke-width="1.3"/>
<line x1="341.20" y1="476.00" x2="343.70" y2="476.00" stroke="#000" stroke-width="1.3"/>
<text x="340.20" y="478.34" font-size="6.8" font-weight="bold" text-anchor="end" fill="#000">0.0</text>
<line x1="341.20" y1="445.85" x2="343.70" y2="445.85" stroke="#000" stroke-width="1.3"/>
<text x="340.20" y="448.19" font-size="6.8" font-weight="bold" text-anchor="end" fill="#000">0.5</text>
<line x1="341.20" y1="415.70" x2="343.70" y2="415.70" stroke="#000" stroke-width="1.3"/>
<text x="340.20" y="418.04" font-size="6.8" font-weight="bold" text-anchor="end" fill="#000">1.0</text>
<line x1="343.70" y1="415.70" x2="346.50" y2="415.70" stroke="#000" stroke-width="1.3"/>
<line x1="343.70" y1="382.10" x2="343.70" y2="408.30" stroke="#000" stroke-width="1.3"/>
<line x1="341.20" y1="382.70" x2="343.70" y2="382.70" stroke="#000" stroke-width="1.3"/>
<text x="340.20" y="385.04" font-size="6.8" font-weight="bold" text-anchor="end" fill="#000">3</text>
<line x1="341.20" y1="395.50" x2="343.70" y2="395.50" stroke="#000" stroke-width="1.3"/>
<text x="340.20" y="397.84" font-size="6.8" font-weight="bold" text-anchor="end" fill="#000">2</text>
<line x1="341.20" y1="408.30" x2="343.70" y2="408.30" stroke="#000" stroke-width="1.3"/>
<text x="340.20" y="410.64" font-size="6.8" font-weight="bold" text-anchor="end" fill="#000">1</text>
<line x1="343.70" y1="408.30" x2="346.50" y2="408.30" stroke="#000" stroke-width="1.3"/>
<line x1="343.70" y1="476.00" x2="484.20" y2="476.00" stroke="#000" stroke-width="1.3"/>
<line x1="367.10" y1="476.00" x2="367.10" y2="478.50" stroke="#000" stroke-width="1.3"/>
<text x="367.10" y="486.35" font-size="7.4" font-weight="bold" text-anchor="middle" fill="#000">Ctrl</text>
<line x1="413.80" y1="476.00" x2="413.80" y2="478.50" stroke="#000" stroke-width="1.3"/>
<text x="413.80" y="486.35" font-size="7.4" font-weight="bold" text-anchor="middle" fill="#000">Coated</text>
<line x1="460.20" y1="476.00" x2="460.20" y2="478.50" stroke="#000" stroke-width="1.3"/>
<text x="460.20" y="486.35" font-size="7.4" font-weight="bold" text-anchor="middle" fill="#000">Soluble</text>
<text x="323.90" y="432.18" font-size="7.8" font-weight="bold" text-anchor="middle" fill="#000" transform="rotate(-90 323.90 429.50)">human cells %</text>
<line x1="365.40" y1="363.00" x2="365.40" y2="384.20" stroke="#000" stroke-width="1.6"/>
<line x1="364.60" y1="363.00" x2="460.80" y2="363.00" stroke="#000" stroke-width="1.6"/>
<line x1="364.60" y1="375.00" x2="413.70" y2="375.00" stroke="#000" stroke-width="1.6"/>
<text x="413.70" y="359.41" font-size="7.8" font-weight="bold" text-anchor="middle" fill="#000">n.s.</text>
<text x="389.00" y="372.86" font-size="6.5" font-weight="bold" text-anchor="middle" fill="#000">*</text>
<circle cx="367.1" cy="459.6" r="2.1" fill="#000"/>
<circle cx="364.6" cy="475.8" r="2.1" fill="#000"/>
<circle cx="370" cy="475.2" r="2.1" fill="#000"/>
<line x1="351.70" y1="470.00" x2="382.50" y2="470.00" stroke="#000" stroke-width="1.2"/>
<rect x="412.10" y="385.20" width="3.80" height="3.80" fill="#000" stroke="none" stroke-width="0"/>
<rect x="411.90" y="456.10" width="3.80" height="3.80" fill="#000" stroke="none" stroke-width="0"/>
<rect x="411.90" y="464.40" width="3.80" height="3.80" fill="#000" stroke="none" stroke-width="0"/>
<line x1="398.30" y1="407.90" x2="429.00" y2="407.90" stroke="#000" stroke-width="1.2"/>
<path d="M460.20,464.30 L462.40,468.30 L458.00,468.30 Z" fill="#000"/>
<path d="M463.50,471.10 L465.70,475.10 L461.30,475.10 Z" fill="#000"/>
<path d="M457.30,473.70 L459.50,477.70 L455.10,477.70 Z" fill="#000"/>
<line x1="444.60" y1="471.90" x2="476.00" y2="471.90" stroke="#000" stroke-width="1.2"/>
<text x="6.00" y="176.00" font-size="12.5" font-weight="bold" text-anchor="middle" fill="#000" stroke="#000" stroke-width="0.35">C</text>
<text x="54.70" y="178.68" font-size="13.3" font-weight="bold" text-anchor="middle" fill="#000">Ctrl</text>
<text x="119.10" y="178.68" font-size="13.3" font-weight="bold" text-anchor="middle" fill="#000">Coated</text>
<text x="181.40" y="178.64" font-size="13.2" font-weight="bold" text-anchor="middle" fill="#000">Soluble</text>
<text x="16.80" y="208.52" font-size="7.9" font-weight="bold" text-anchor="middle" fill="#000" transform="rotate(-90 16.80 205.80)">CD45/CD71</text>
<text x="16.90" y="283.72" font-size="7.9" font-weight="bold" text-anchor="middle" fill="#000" transform="rotate(-90 16.90 281.00)">CD19/CD20</text>
<path d="M16.6,250.9 L16.6,233.5" stroke="#000" stroke-width="1.2" fill="none"/>
<path d="M16.6,230.6 L14.4,235.6 L18.8,235.6 Z" fill="#000"/>
<path d="M16,250.9 L152.5,250.9" stroke="#000" stroke-width="1.2" fill="none"/>
<path d="M155.6,250.9 L150.6,248.7 L150.6,253.1 Z" fill="#000"/>
<text x="185.90" y="253.67" font-size="8.05" font-weight="bold" text-anchor="middle" fill="#000">CD15/CD66b</text>
<path d="M16.6,327.1 L16.6,311" stroke="#000" stroke-width="1.2" fill="none"/>
<path d="M16.6,308.2 L14.4,313.2 L18.8,313.2 Z" fill="#000"/>
<path d="M16,327.1 L179.6,327.1" stroke="#000" stroke-width="1.2" fill="none"/>
<path d="M182.7,327.1 L177.7,324.9 L177.7,329.3 Z" fill="#000"/>
<text x="198.10" y="329.87" font-size="8.05" font-weight="bold" text-anchor="middle" fill="#000">CD34</text>
<text x="28.30" y="241.00" font-size="3.2" fill="#9a9a9a" text-anchor="end" transform="rotate(-30 28.30 240.00)">10</text>
<text x="30.50" y="243.60" font-size="3.2" fill="#9a9a9a" text-anchor="end" transform="rotate(-30 29.50 243.00)">10</text>
<text x="28.30" y="227.82" font-size="3.2" fill="#9a9a9a" text-anchor="end" transform="rotate(-30 28.30 226.82)">10</text>
<text x="43.88" y="243.60" font-size="3.2" fill="#9a9a9a" text-anchor="end" transform="rotate(-30 42.88 243.00)">10</text>
<text x="28.30" y="214.65" font-size="3.2" fill="#9a9a9a" text-anchor="end" transform="rotate(-30 28.30 213.65)">10</text>
<text x="57.25" y="243.60" font-size="3.2" fill="#9a9a9a" text-anchor="end" transform="rotate(-30 56.25 243.00)">10</text>
<text x="28.30" y="201.48" font-size="3.2" fill="#9a9a9a" text-anchor="end" transform="rotate(-30 28.30 200.48)">10</text>
<text x="70.62" y="243.60" font-size="3.2" fill="#9a9a9a" text-anchor="end" transform="rotate(-30 69.62 243.00)">10</text>
<text x="28.30" y="188.30" font-size="3.2" fill="#9a9a9a" text-anchor="end" transform="rotate(-30 28.30 187.30)">10</text>
<text x="84.00" y="243.60" font-size="3.2" fill="#9a9a9a" text-anchor="end" transform="rotate(-30 83.00 243.00)">10</text>
<rect x="29.50" y="187.30" width="53.50" height="52.70" fill="#fff" stroke="#a2a2ac" stroke-width="0.9"/>
<clipPath id="cl1"><rect x="29.90" y="187.70" width="52.70" height="51.90"/></clipPath>
<g clip-path="url(#cl1)">
<ellipse cx="38.00" cy="209.00" rx="6.00" ry="8.00" fill="#b4b0ec" opacity="0.3" filter="url(#blur3)"/>
<ellipse cx="38.00" cy="208.00" rx="5.00" ry="7.00" fill="#7c84e8" opacity="0.45" filter="url(#speck)"/>
<path d="M27.39,228.02 L50.39,222.03 L46.52,242.78 L27.39,242.78 Z" fill="#b8bcf4" opacity="0.7" filter="url(#blur3)"/>
<path d="M29.50,229.20 L47.90,224.40 L44.80,241.00 L29.50,241.00 Z" fill="#1a26d2" opacity="1.0" filter="url(#blur2)"/>
<path d="M30.94,230.13 L46.40,226.10 L43.79,240.04 L30.94,240.04 Z" fill="#2446e4" opacity="1.0" filter="url(#blur2)"/>
<path d="M32.20,230.94 L45.08,227.58 L42.91,239.20 L32.20,239.20 Z" fill="#3286ea" opacity="1.0" filter="url(#blur2)"/>
<path d="M33.46,231.75 L43.76,229.06 L42.03,238.36 L33.46,238.36 Z" fill="#58c2b0" opacity="1.0" filter="url(#blur2)"/>
<path d="M34.72,232.56 L42.45,230.55 L41.15,237.52 L34.72,237.52 Z" fill="#7ed84c" opacity="1.0" filter="url(#blur2)"/>
<path d="M36.16,233.49 L40.94,232.24 L40.14,236.56 L36.16,236.56 Z" fill="#94e63a" opacity="1.0" filter="url(#blur2)"/>
</g>
<rect x="30.50" y="194.60" width="16.90" height="23.10" fill="none" stroke="#bc98cc" stroke-width="0.8"/>
<rect x="47.40" y="194.60" width="22.60" height="23.10" fill="none" stroke="#bc98cc" stroke-width="0.8"/>
<text x="38.80" y="207.75" font-size="3.6" font-weight="bold" text-anchor="middle" fill="#222">1.32</text>
<text x="58.50" y="207.75" font-size="3.6" font-weight="bold" text-anchor="middle" fill="#222">0.088</text>
<text x="91.40" y="241.00" font-size="3.2" fill="#9a9a9a" text-anchor="end" transform="rotate(-30 91.40 240.00)">10</text>
<text x="93.60" y="243.60" font-size="3.2" fill="#9a9a9a" text-anchor="end" transform="rotate(-30 92.60 243.00)">10</text>
<text x="91.40" y="227.82" font-size="3.2" fill="#9a9a9a" text-anchor="end" transform="rotate(-30 91.40 226.82)">10</text>
<text x="107.00" y="243.60" font-size="3.2" fill="#9a9a9a" text-anchor="end" transform="rotate(-30 106.00 243.00)">10</text>
<text x="91.40" y="214.65" font-size="3.2" fill="#9a9a9a" text-anchor="end" transform="rotate(-30 91.40 213.65)">10</text>
<text x="120.40" y="243.60" font-size="3.2" fill="#9a9a9a" text-anchor="end" transform="rotate(-30 119.40 243.00)">10</text>
<text x="91.40" y="201.48" font-size="3.2" fill="#9a9a9a" text-anchor="end" transform="rotate(-30 91.40 200.48)">10</text>
<text x="133.80" y="243.60" font-size="3.2" fill="#9a9a9a" text-anchor="end" transform="rotate(-30 132.80 243.00)">10</text>
<text x="91.40" y="188.30" font-size="3.2" fill="#9a9a9a" text-anchor="end" transform="rotate(-30 91.40 187.30)">10</text>
<text x="147.20" y="243.60" font-size="3.2" fill="#9a9a9a" text-anchor="end" transform="rotate(-30 146.20 243.00)">10</text>
<rect x="92.60" y="187.30" width="53.60" height="52.70" fill="#fff" stroke="#a2a2ac" stroke-width="0.9"/>
<clipPath id="cl2"><rect x="93.00" y="187.70" width="52.80" height="51.90"/></clipPath>
<g clip-path="url(#cl2)">
<ellipse cx="118.00" cy="211.00" rx="9.00" ry="4.50" fill="#b4b0ec" opacity="0.6" filter="url(#blur3)"/>
<ellipse cx="101.00" cy="203.00" rx="9.00" ry="6.00" fill="#b4b0ec" opacity="0.55" filter="url(#blur3)"/>
<ellipse cx="101.00" cy="222.00" rx="9.00" ry="5.00" fill="#b4b0ec" opacity="0.35" filter="url(#blur3)"/>
<ellipse cx="102.00" cy="209.00" rx="12.00" ry="10.00" fill="#5058e0" opacity="0.5" filter="url(#speck)"/>
<ellipse cx="118.00" cy="211.00" rx="9.00" ry="4.50" fill="#7a78e0" opacity="0.45" filter="url(#speck)"/>
<ellipse cx="101.00" cy="223.00" rx="10.00" ry="5.00" fill="#8a90e8" opacity="0.35" filter="url(#speck)"/>
<path d="M92.60,227.00 L112.00,221.50 L108.00,241.00 L92.60,241.00 Z" fill="#b4b4f0" opacity="0.7" filter="url(#blur3)"/>
<ellipse cx="101.80" cy="211.20" rx="11.50" ry="8.28" fill="#b4b4f0" opacity="0.5" filter="url(#blur3)"/>
<ellipse cx="101.80" cy="211.20" rx="10.00" ry="7.20" fill="#1a26d2" filter="url(#blur2)"/>
<ellipse cx="101.80" cy="211.20" rx="8.20" ry="5.90" fill="#2446e4" filter="url(#blur2)"/>
<ellipse cx="101.80" cy="211.20" rx="6.60" ry="4.75" fill="#3286ea" filter="url(#blur2)"/>
<ellipse cx="101.80" cy="211.20" rx="5.20" ry="3.74" fill="#58c2b0" filter="url(#blur2)"/>
<ellipse cx="101.80" cy="211.20" rx="4.00" ry="2.88" fill="#7ed84c" filter="url(#blur2)"/>
<ellipse cx="101.80" cy="211.20" rx="2.40" ry="1.73" fill="#94e63a" filter="url(#blur2)"/>
<path d="M92.60,227.50 L111.50,222.20 L107.50,241.00 L92.60,241.00 Z" fill="#b8bcf4" opacity="0.7" filter="url(#blur3)"/>
<path d="M92.60,227.50 L111.50,222.20 L107.50,241.00 L92.60,241.00 Z" fill="#1a26d2" opacity="1.0" filter="url(#blur2)"/>
<path d="M94.10,228.46 L109.98,224.01 L106.62,239.80 L94.10,239.80 Z" fill="#2446e4" opacity="1.0" filter="url(#blur2)"/>
<path d="M95.42,229.30 L108.65,225.59 L105.85,238.75 L95.42,238.75 Z" fill="#3286ea" opacity="1.0" filter="url(#blur2)"/>
<path d="M96.74,230.14 L107.32,227.17 L105.08,237.70 L96.74,237.70 Z" fill="#58c2b0" opacity="1.0" filter="url(#blur2)"/>
<path d="M98.05,230.98 L105.99,228.75 L104.31,236.65 L98.05,236.65 Z" fill="#7ed84c" opacity="1.0" filter="url(#blur2)"/>
<path d="M99.56,231.94 L104.47,230.56 L103.43,235.45 L99.56,235.45 Z" fill="#94e63a" opacity="1.0" filter="url(#blur2)"/>
</g>
<rect x="93.50" y="194.60" width="17.30" height="23.10" fill="none" stroke="#bc98cc" stroke-width="0.8"/>
<rect x="110.80" y="194.60" width="22.20" height="23.10" fill="none" stroke="#bc98cc" stroke-width="0.8"/>
<text x="101.60" y="207.55" font-size="3.6" font-weight="bold" text-anchor="middle" fill="#111" stroke="#e8f4ff" stroke-width="0.5" paint-order="stroke">45.4</text>
<text x="121.50" y="207.75" font-size="3.6" font-weight="bold" text-anchor="middle" fill="#222">1.05</text>
<text x="153.80" y="241.00" font-size="3.2" fill="#9a9a9a" text-anchor="end" transform="rotate(-30 153.80 240.00)">10</text>
<text x="156.00" y="243.60" font-size="3.2" fill="#9a9a9a" text-anchor="end" transform="rotate(-30 155.00 243.00)">10</text>
<text x="153.80" y="227.82" font-size="3.2" fill="#9a9a9a" text-anchor="end" transform="rotate(-30 153.80 226.82)">10</text>
<text x="169.40" y="243.60" font-size="3.2" fill="#9a9a9a" text-anchor="end" transform="rotate(-30 168.40 243.00)">10</text>
<text x="153.80" y="214.65" font-size="3.2" fill="#9a9a9a" text-anchor="end" transform="rotate(-30 153.80 213.65)">10</text>
<text x="182.80" y="243.60" font-size="3.2" fill="#9a9a9a" text-anchor="end" transform="rotate(-30 181.80 243.00)">10</text>
<text x="153.80" y="201.48" font-size="3.2" fill="#9a9a9a" text-anchor="end" transform="rotate(-30 153.80 200.48)">10</text>
<text x="196.20" y="243.60" font-size="3.2" fill="#9a9a9a" text-anchor="end" transform="rotate(-30 195.20 243.00)">10</text>
<text x="153.80" y="188.30" font-size="3.2" fill="#9a9a9a" text-anchor="end" transform="rotate(-30 153.80 187.30)">10</text>
<text x="209.60" y="243.60" font-size="3.2" fill="#9a9a9a" text-anchor="end" transform="rotate(-30 208.60 243.00)">10</text>
<rect x="155.00" y="187.30" width="53.60" height="52.70" fill="#fff" stroke="#a2a2ac" stroke-width="0.9"/>
<clipPath id="cl3"><rect x="155.40" y="187.70" width="52.80" height="51.90"/></clipPath>
<g clip-path="url(#cl3)">
<ellipse cx="180.40" cy="211.00" rx="9.00" ry="4.50" fill="#b4b0ec" opacity="0.6" filter="url(#blur3)"/>
<ellipse cx="163.40" cy="203.00" rx="9.00" ry="6.00" fill="#b4b0ec" opacity="0.55" filter="url(#blur3)"/>
<ellipse cx="163.40" cy="222.00" rx="9.00" ry="5.00" fill="#b4b0ec" opacity="0.35" filter="url(#blur3)"/>
<ellipse cx="164.40" cy="207.20" rx="12.00" ry="10.00" fill="#5058e0" opacity="0.5" filter="url(#speck)"/>
<ellipse cx="180.40" cy="211.00" rx="9.00" ry="4.50" fill="#7a78e0" opacity="0.45" filter="url(#speck)"/>
<ellipse cx="163.40" cy="223.00" rx="10.00" ry="5.00" fill="#8a90e8" opacity="0.35" filter="url(#speck)"/>
<path d="M155.00,227.00 L174.40,221.50 L170.40,241.00 L155.00,241.00 Z" fill="#b4b4f0" opacity="0.7" filter="url(#blur3)"/>
<ellipse cx="164.20" cy="209.40" rx="11.50" ry="8.28" fill="#b4b4f0" opacity="0.5" filter="url(#blur3)"/>
<ellipse cx="164.20" cy="209.40" rx="10.00" ry="7.20" fill="#1a26d2" filter="url(#blur2)"/>
<ellipse cx="164.20" cy="209.40" rx="8.20" ry="5.90" fill="#2446e4" filter="url(#blur2)"/>
<ellipse cx="164.20" cy="209.40" rx="6.60" ry="4.75" fill="#3286ea" filter="url(#blur2)"/>
<ellipse cx="164.20" cy="209.40" rx="5.20" ry="3.74" fill="#58c2b0" filter="url(#blur2)"/>
<ellipse cx="164.20" cy="209.40" rx="4.00" ry="2.88" fill="#7ed84c" filter="url(#blur2)"/>
<ellipse cx="164.20" cy="209.40" rx="2.40" ry="1.73" fill="#94e63a" filter="url(#blur2)"/>
<path d="M155.00,227.50 L173.90,222.20 L169.90,241.00 L155.00,241.00 Z" fill="#b8bcf4" opacity="0.7" filter="url(#blur3)"/>
<path d="M155.00,227.50 L173.90,222.20 L169.90,241.00 L155.00,241.00 Z" fill="#1a26d2" opacity="1.0" filter="url(#blur2)"/>
<path d="M156.50,228.46 L172.38,224.01 L169.02,239.80 L156.50,239.80 Z" fill="#2446e4" opacity="1.0" filter="url(#blur2)"/>
<path d="M157.82,229.30 L171.05,225.59 L168.25,238.75 L157.82,238.75 Z" fill="#3286ea" opacity="1.0" filter="url(#blur2)"/>
<path d="M159.14,230.14 L169.72,227.17 L167.48,237.70 L159.14,237.70 Z" fill="#58c2b0" opacity="1.0" filter="url(#blur2)"/>
<path d="M160.45,230.98 L168.39,228.75 L166.71,236.65 L160.45,236.65 Z" fill="#7ed84c" opacity="1.0" filter="url(#blur2)"/>
<path d="M161.96,231.94 L166.87,230.56 L165.83,235.45 L161.96,235.45 Z" fill="#94e63a" opacity="1.0" filter="url(#blur2)"/>
</g>
<rect x="155.90" y="194.60" width="17.30" height="23.10" fill="none" stroke="#bc98cc" stroke-width="0.8"/>
<rect x="173.20" y="194.60" width="22.20" height="23.10" fill="none" stroke="#bc98cc" stroke-width="0.8"/>
<text x="164.00" y="207.55" font-size="3.6" font-weight="bold" text-anchor="middle" fill="#111" stroke="#e8f4ff" stroke-width="0.5" paint-order="stroke">38</text>
<text x="183.90" y="207.75" font-size="3.6" font-weight="bold" text-anchor="middle" fill="#222">3.27</text>
<text x="28.30" y="317.40" font-size="3.2" fill="#9a9a9a" text-anchor="end" transform="rotate(-30 28.30 316.40)">10</text>
<text x="30.50" y="320.00" font-size="3.2" fill="#9a9a9a" text-anchor="end" transform="rotate(-30 29.50 319.40)">10</text>
<text x="28.30" y="304.15" font-size="3.2" fill="#9a9a9a" text-anchor="end" transform="rotate(-30 28.30 303.15)">10</text>
<text x="43.88" y="320.00" font-size="3.2" fill="#9a9a9a" text-anchor="end" transform="rotate(-30 42.88 319.40)">10</text>
<text x="28.30" y="290.90" font-size="3.2" fill="#9a9a9a" text-anchor="end" transform="rotate(-30 28.30 289.90)">10</text>
<text x="57.25" y="320.00" font-size="3.2" fill="#9a9a9a" text-anchor="end" transform="rotate(-30 56.25 319.40)">10</text>
<text x="28.30" y="277.65" font-size="3.2" fill="#9a9a9a" text-anchor="end" transform="rotate(-30 28.30 276.65)">10</text>
<text x="70.62" y="320.00" font-size="3.2" fill="#9a9a9a" text-anchor="end" transform="rotate(-30 69.62 319.40)">10</text>
<text x="28.30" y="264.40" font-size="3.2" fill="#9a9a9a" text-anchor="end" transform="rotate(-30 28.30 263.40)">10</text>
<text x="84.00" y="320.00" font-size="3.2" fill="#9a9a9a" text-anchor="end" transform="rotate(-30 83.00 319.40)">10</text>
<rect x="29.50" y="263.40" width="53.50" height="53.00" fill="#fff" stroke="#a2a2ac" stroke-width="0.9"/>
<clipPath id="cl4"><rect x="29.90" y="263.80" width="52.70" height="52.20"/></clipPath>
<g clip-path="url(#cl4)">
<ellipse cx="40.00" cy="292.00" rx="6.00" ry="6.00" fill="#b4b0ec" opacity="0.3" filter="url(#blur3)"/>
<ellipse cx="40.00" cy="292.00" rx="5.00" ry="6.00" fill="#9098e8" opacity="0.35" filter="url(#speck)"/>
<path d="M27.38,301.00 L52.38,293.50 L44.88,319.75 L27.38,319.75 Z" fill="#b8bcf4" opacity="0.7" filter="url(#blur3)"/>
<path d="M29.50,302.50 L49.50,296.50 L43.50,317.50 L29.50,317.50 Z" fill="#1a26d2" opacity="1.0" filter="url(#blur2)"/>
<path d="M31.10,303.30 L47.90,298.26 L42.86,315.90 L31.10,315.90 Z" fill="#2446e4" opacity="1.0" filter="url(#blur2)"/>
<path d="M32.50,304.00 L46.50,299.80 L42.30,314.50 L32.50,314.50 Z" fill="#3286ea" opacity="1.0" filter="url(#blur2)"/>
<path d="M33.90,304.70 L45.10,301.34 L41.74,313.10 L33.90,313.10 Z" fill="#58c2b0" opacity="1.0" filter="url(#blur2)"/>
<path d="M35.30,305.40 L43.70,302.88 L41.18,311.70 L35.30,311.70 Z" fill="#7ed84c" opacity="1.0" filter="url(#blur2)"/>
<path d="M36.90,306.20 L42.10,304.64 L40.54,310.10 L36.90,310.10 Z" fill="#94e63a" opacity="1.0" filter="url(#blur2)"/>
</g>
<path d="M30.30,273.60 L56.20,273.60 L56.20,283.70 L44.50,297.00 L30.30,301.00 Z" fill="none" stroke="#bc98cc" stroke-width="0.8"/>
<path d="M57.70,297.20 L79.70,297.20 L79.70,316.40 L49.70,316.40 L49.70,310.80 Z" fill="none" stroke="#bc98cc" stroke-width="0.8"/>
<text x="42.70" y="288.75" font-size="3.6" font-weight="bold" text-anchor="middle" fill="#222">0.92</text>
<text x="62.90" y="308.35" font-size="3.6" font-weight="bold" text-anchor="middle" fill="#222">0.067</text>
<text x="90.40" y="317.40" font-size="3.2" fill="#9a9a9a" text-anchor="end" transform="rotate(-30 90.40 316.40)">10</text>
<text x="92.60" y="320.00" font-size="3.2" fill="#9a9a9a" text-anchor="end" transform="rotate(-30 91.60 319.40)">10</text>
<text x="90.40" y="304.15" font-size="3.2" fill="#9a9a9a" text-anchor="end" transform="rotate(-30 90.40 303.15)">10</text>
<text x="106.00" y="320.00" font-size="3.2" fill="#9a9a9a" text-anchor="end" transform="rotate(-30 105.00 319.40)">10</text>
<text x="90.40" y="290.90" font-size="3.2" fill="#9a9a9a" text-anchor="end" transform="rotate(-30 90.40 289.90)">10</text>
<text x="119.40" y="320.00" font-size="3.2" fill="#9a9a9a" text-anchor="end" transform="rotate(-30 118.40 319.40)">10</text>
<text x="90.40" y="277.65" font-size="3.2" fill="#9a9a9a" text-anchor="end" transform="rotate(-30 90.40 276.65)">10</text>
<text x="132.80" y="320.00" font-size="3.2" fill="#9a9a9a" text-anchor="end" transform="rotate(-30 131.80 319.40)">10</text>
<text x="90.40" y="264.40" font-size="3.2" fill="#9a9a9a" text-anchor="end" transform="rotate(-30 90.40 263.40)">10</text>
<text x="146.20" y="320.00" font-size="3.2" fill="#9a9a9a" text-anchor="end" transform="rotate(-30 145.20 319.40)">10</text>
<rect x="91.60" y="263.40" width="53.60" height="53.00" fill="#fff" stroke="#a2a2ac" stroke-width="0.9"/>
<clipPath id="cl5"><rect x="92.00" y="263.80" width="52.80" height="52.20"/></clipPath>
<g clip-path="url(#cl5)">
<ellipse cx="110.00" cy="303.00" rx="13.00" ry="13.00" fill="#b4b0ec" opacity="0.6" filter="url(#blur3)"/>
<ellipse cx="102.00" cy="287.00" rx="9.00" ry="7.00" fill="#b4b0ec" opacity="0.6" filter="url(#blur3)"/>
<ellipse cx="109.00" cy="301.00" rx="13.00" ry="15.00" fill="#6060e0" opacity="0.45" filter="url(#speck)"/>
<ellipse cx="102.00" cy="287.00" rx="9.00" ry="7.00" fill="#6a6ae4" opacity="0.4" filter="url(#speck)"/>
<path d="M91.60,283.00 L104.00,281.00 L114.00,292.00 L113.00,317.00 L91.60,317.00 Z" fill="#5058e4" opacity="0.75" filter="url(#blur1)"/>
<path d="M91.60,288.00 L100.00,286.00 L108.00,295.00 L106.00,317.00 L91.60,317.00 Z" fill="#2a3ad8" opacity="1.0" filter="url(#speck)"/>
<ellipse cx="100.50" cy="292.80" rx="6.50" ry="3.60" fill="#b4b4f0" opacity="0.0" filter="url(#blur3)" transform="rotate(-25 100.50 292.80)"/>
<ellipse cx="100.50" cy="292.80" rx="6.50" ry="3.60" fill="#2a4ae0" filter="url(#blur2)" transform="rotate(-25 100.50 292.80)"/>
<ellipse cx="100.50" cy="292.80" rx="4.88" ry="2.70" fill="#3a90e0" filter="url(#blur2)" transform="rotate(-25 100.50 292.80)"/>
<ellipse cx="100.50" cy="292.80" rx="3.25" ry="1.80" fill="#5ac8b0" filter="url(#blur2)" transform="rotate(-25 100.50 292.80)"/>
<ellipse cx="100.50" cy="292.80" rx="1.95" ry="1.08" fill="#84dc48" filter="url(#blur2)" transform="rotate(-25 100.50 292.80)"/>
<ellipse cx="103.80" cy="306.50" rx="8.50" ry="5.20" fill="#b4b4f0" opacity="0.0" filter="url(#blur3)" transform="rotate(-55 103.80 306.50)"/>
<ellipse cx="103.80" cy="306.50" rx="8.50" ry="5.20" fill="#2846e2" filter="url(#blur2)" transform="rotate(-55 103.80 306.50)"/>
<ellipse cx="103.80" cy="306.50" rx="6.80" ry="4.16" fill="#3484e8" filter="url(#blur2)" transform="rotate(-55 103.80 306.50)"/>
<ellipse cx="103.80" cy="306.50" rx="5.27" ry="3.22" fill="#56c0b4" filter="url(#blur2)" transform="rotate(-55 103.80 306.50)"/>
<ellipse cx="103.80" cy="306.50" rx="3.83" ry="2.34" fill="#80da48" filter="url(#blur2)" transform="rotate(-55 103.80 306.50)"/>
<ellipse cx="103.80" cy="306.50" rx="2.38" ry="1.46" fill="#96e63a" filter="url(#blur2)" transform="rotate(-55 103.80 306.50)"/>
</g>
<path d="M92.30,274.10 L118.60,274.10 L118.60,282.50 L108.00,293.50 L92.30,298.00 Z" fill="none" stroke="#bc98cc" stroke-width="0.8"/>
<path d="M120.30,296.70 L141.70,296.70 L141.70,316.40 L111.70,316.40 L111.70,310.80 Z" fill="none" stroke="#bc98cc" stroke-width="0.8"/>
<text x="105.00" y="288.95" font-size="3.6" font-weight="bold" text-anchor="middle" fill="#111" stroke="#e8f4ff" stroke-width="0.5" paint-order="stroke">26.6</text>
<text x="126.10" y="308.55" font-size="3.6" font-weight="bold" text-anchor="middle" fill="#222">2.34</text>
<text x="153.80" y="317.40" font-size="3.2" fill="#9a9a9a" text-anchor="end" transform="rotate(-30 153.80 316.40)">10</text>
<text x="156.00" y="320.00" font-size="3.2" fill="#9a9a9a" text-anchor="end" transform="rotate(-30 155.00 319.40)">10</text>
<text x="153.80" y="304.15" font-size="3.2" fill="#9a9a9a" text-anchor="end" transform="rotate(-30 153.80 303.15)">10</text>
<text x="169.40" y="320.00" font-size="3.2" fill="#9a9a9a" text-anchor="end" transform="rotate(-30 168.40 319.40)">10</text>
<text x="153.80" y="290.90" font-size="3.2" fill="#9a9a9a" text-anchor="end" transform="rotate(-30 153.80 289.90)">10</text>
<text x="182.80" y="320.00" font-size="3.2" fill="#9a9a9a" text-anchor="end" transform="rotate(-30 181.80 319.40)">10</text>
<text x="153.80" y="277.65" font-size="3.2" fill="#9a9a9a" text-anchor="end" transform="rotate(-30 153.80 276.65)">10</text>
<text x="196.20" y="320.00" font-size="3.2" fill="#9a9a9a" text-anchor="end" transform="rotate(-30 195.20 319.40)">10</text>
<text x="153.80" y="264.40" font-size="3.2" fill="#9a9a9a" text-anchor="end" transform="rotate(-30 153.80 263.40)">10</text>
<text x="209.60" y="320.00" font-size="3.2" fill="#9a9a9a" text-anchor="end" transform="rotate(-30 208.60 319.40)">10</text>
<rect x="155.00" y="263.40" width="53.60" height="53.00" fill="#fff" stroke="#a2a2ac" stroke-width="0.9"/>
<clipPath id="cl6"><rect x="155.40" y="263.80" width="52.80" height="52.20"/></clipPath>
<g clip-path="url(#cl6)">
<ellipse cx="173.40" cy="303.00" rx="13.00" ry="13.00" fill="#b4b0ec" opacity="0.6" filter="url(#blur3)"/>
<ellipse cx="165.40" cy="287.00" rx="9.00" ry="7.00" fill="#b4b0ec" opacity="0.6" filter="url(#blur3)"/>
<ellipse cx="172.40" cy="301.00" rx="13.00" ry="15.00" fill="#6060e0" opacity="0.45" filter="url(#speck)"/>
<ellipse cx="165.40" cy="287.00" rx="9.00" ry="7.00" fill="#6a6ae4" opacity="0.4" filter="url(#speck)"/>
<path d="M155.00,283.00 L167.40,281.00 L177.40,292.00 L176.40,317.00 L155.00,317.00 Z" fill="#5058e4" opacity="0.75" filter="url(#blur1)"/>
<path d="M155.00,288.00 L163.40,286.00 L171.40,295.00 L169.40,317.00 L155.00,317.00 Z" fill="#2a3ad8" opacity="1.0" filter="url(#speck)"/>
<ellipse cx="163.90" cy="292.80" rx="6.50" ry="3.60" fill="#b4b4f0" opacity="0.0" filter="url(#blur3)" transform="rotate(-25 163.90 292.80)"/>
<ellipse cx="163.90" cy="292.80" rx="6.50" ry="3.60" fill="#2a4ae0" filter="url(#blur2)" transform="rotate(-25 163.90 292.80)"/>
<ellipse cx="163.90" cy="292.80" rx="4.88" ry="2.70" fill="#3a90e0" filter="url(#blur2)" transform="rotate(-25 163.90 292.80)"/>
<ellipse cx="163.90" cy="292.80" rx="3.25" ry="1.80" fill="#5ac8b0" filter="url(#blur2)" transform="rotate(-25 163.90 292.80)"/>
<ellipse cx="163.90" cy="292.80" rx="1.95" ry="1.08" fill="#84dc48" filter="url(#blur2)" transform="rotate(-25 163.90 292.80)"/>
<ellipse cx="167.20" cy="306.50" rx="8.50" ry="5.20" fill="#b4b4f0" opacity="0.0" filter="url(#blur3)" transform="rotate(-55 167.20 306.50)"/>
<ellipse cx="167.20" cy="306.50" rx="8.50" ry="5.20" fill="#2846e2" filter="url(#blur2)" transform="rotate(-55 167.20 306.50)"/>
<ellipse cx="167.20" cy="306.50" rx="6.80" ry="4.16" fill="#3484e8" filter="url(#blur2)" transform="rotate(-55 167.20 306.50)"/>
<ellipse cx="167.20" cy="306.50" rx="5.27" ry="3.22" fill="#56c0b4" filter="url(#blur2)" transform="rotate(-55 167.20 306.50)"/>
<ellipse cx="167.20" cy="306.50" rx="3.83" ry="2.34" fill="#80da48" filter="url(#blur2)" transform="rotate(-55 167.20 306.50)"/>
<ellipse cx="167.20" cy="306.50" rx="2.38" ry="1.46" fill="#96e63a" filter="url(#blur2)" transform="rotate(-55 167.20 306.50)"/>
</g>
<path d="M155.70,274.10 L182.00,274.10 L182.00,282.50 L171.40,293.50 L155.70,298.00 Z" fill="none" stroke="#bc98cc" stroke-width="0.8"/>
<path d="M183.70,296.70 L205.10,296.70 L205.10,316.40 L175.10,316.40 L175.10,310.80 Z" fill="none" stroke="#bc98cc" stroke-width="0.8"/>
<text x="168.40" y="288.95" font-size="3.6" font-weight="bold" text-anchor="middle" fill="#111" stroke="#e8f4ff" stroke-width="0.5" paint-order="stroke">29.6</text>
<text x="189.50" y="308.55" font-size="3.6" font-weight="bold" text-anchor="middle" fill="#222">1.53</text>
<text x="2.60" y="518.10" font-size="12.5" font-weight="bold" text-anchor="middle" fill="#000" stroke="#000" stroke-width="0.35">I</text>
<text x="54.60" y="520.64" font-size="13.2" font-weight="bold" text-anchor="middle" fill="#000">Ctrl</text>
<text x="119.10" y="520.94" font-size="13.2" font-weight="bold" text-anchor="middle" fill="#000">Coated</text>
<text x="181.40" y="520.94" font-size="13.2" font-weight="bold" text-anchor="middle" fill="#000">Soluble</text>
<text x="16.40" y="550.42" font-size="7.9" font-weight="bold" text-anchor="middle" fill="#000" transform="rotate(-90 16.40 547.70)">CD45/CD71</text>
<text x="16.20" y="626.75" font-size="8" font-weight="bold" text-anchor="middle" fill="#000" transform="rotate(-90 16.20 624.00)">CD19/CD20</text>
<path d="M16.3,593 L16.3,577" stroke="#000" stroke-width="1.2" fill="none"/>
<path d="M16.3,574.2 L14.1,579.2 L18.5,579.2 Z" fill="#000"/>
<path d="M15.7,593 L152.4,593" stroke="#000" stroke-width="1.2" fill="none"/>
<path d="M155.5,593 L150.5,590.8 L150.5,595.2 Z" fill="#000"/>
<text x="185.70" y="595.77" font-size="8.05" font-weight="bold" text-anchor="middle" fill="#000">CD15/CD66b</text>
<path d="M15.3,670 L15.3,654" stroke="#000" stroke-width="1.2" fill="none"/>
<path d="M15.3,651.2 L13.1,656.2 L17.5,656.2 Z" fill="#000"/>
<path d="M14.7,670 L180,670" stroke="#000" stroke-width="1.2" fill="none"/>
<path d="M183.1,670 L178.1,667.8 L178.1,672.2 Z" fill="#000"/>
<text x="198.20" y="672.77" font-size="8.05" font-weight="bold" text-anchor="middle" fill="#000">CD34</text>
<text x="27.70" y="583.60" font-size="3.2" fill="#9a9a9a" text-anchor="end" transform="rotate(-30 27.70 582.60)">10</text>
<text x="29.90" y="586.20" font-size="3.2" fill="#9a9a9a" text-anchor="end" transform="rotate(-30 28.90 585.60)">10</text>
<text x="27.70" y="570.27" font-size="3.2" fill="#9a9a9a" text-anchor="end" transform="rotate(-30 27.70 569.27)">10</text>
<text x="43.32" y="586.20" font-size="3.2" fill="#9a9a9a" text-anchor="end" transform="rotate(-30 42.32 585.60)">10</text>
<text x="27.70" y="556.95" font-size="3.2" fill="#9a9a9a" text-anchor="end" transform="rotate(-30 27.70 555.95)">10</text>
<text x="56.75" y="586.20" font-size="3.2" fill="#9a9a9a" text-anchor="end" transform="rotate(-30 55.75 585.60)">10</text>
<text x="27.70" y="543.62" font-size="3.2" fill="#9a9a9a" text-anchor="end" transform="rotate(-30 27.70 542.62)">10</text>
<text x="70.17" y="586.20" font-size="3.2" fill="#9a9a9a" text-anchor="end" transform="rotate(-30 69.17 585.60)">10</text>
<text x="27.70" y="530.30" font-size="3.2" fill="#9a9a9a" text-anchor="end" transform="rotate(-30 27.70 529.30)">10</text>
<text x="83.60" y="586.20" font-size="3.2" fill="#9a9a9a" text-anchor="end" transform="rotate(-30 82.60 585.60)">10</text>
<rect x="28.90" y="529.30" width="53.70" height="53.30" fill="#fff" stroke="#a2a2ac" stroke-width="0.9"/>
<clipPath id="cl7"><rect x="29.30" y="529.70" width="52.90" height="52.50"/></clipPath>
<g clip-path="url(#cl7)">
<ellipse cx="33.62" cy="576.60" rx="6.30" ry="4.40" fill="#b4b0ec" opacity="0.55" filter="url(#blur3)"/>
<path d="M27.90,574.60 L33.62,574.20 L39.40,577.80 L39.61,583.60 L27.90,583.60 Z" fill="#4050e6" opacity="0.9" filter="url(#blur1)"/>
<path d="M27.90,576.20 L33.62,575.80 L38.35,579.00 L38.35,583.60 L27.90,583.60 Z" fill="#1424d4" opacity="1.0" filter="url(#blur2)"/>
<ellipse cx="32.37" cy="581.60" rx="2.60" ry="2.00" fill="#78cce8" opacity="1.0" filter="url(#blur2)"/>
<ellipse cx="32.37" cy="582.00" rx="1.50" ry="1.10" fill="#96e07a" opacity="1.0" filter="url(#blur2)"/>
</g>
<rect x="29.50" y="548.20" width="13.40" height="21.90" fill="none" stroke="#bc98cc" stroke-width="0.8"/>
<rect x="42.90" y="548.20" width="14.40" height="21.90" fill="none" stroke="#bc98cc" stroke-width="0.8"/>
<text x="36.70" y="559.85" font-size="3.7" font-weight="bold" text-anchor="middle" fill="#222">6.27</text>
<text x="50.10" y="559.85" font-size="3.7" font-weight="bold" text-anchor="middle" fill="#222">7.65e-3</text>
<text x="27.70" y="660.20" font-size="3.2" fill="#9a9a9a" text-anchor="end" transform="rotate(-30 27.70 659.20)">10</text>
<text x="29.90" y="662.80" font-size="3.2" fill="#9a9a9a" text-anchor="end" transform="rotate(-30 28.90 662.20)">10</text>
<text x="27.70" y="647.03" font-size="3.2" fill="#9a9a9a" text-anchor="end" transform="rotate(-30 27.70 646.03)">10</text>
<text x="43.32" y="662.80" font-size="3.2" fill="#9a9a9a" text-anchor="end" transform="rotate(-30 42.32 662.20)">10</text>
<text x="27.70" y="633.85" font-size="3.2" fill="#9a9a9a" text-anchor="end" transform="rotate(-30 27.70 632.85)">10</text>
<text x="56.75" y="662.80" font-size="3.2" fill="#9a9a9a" text-anchor="end" transform="rotate(-30 55.75 662.20)">10</text>
<text x="27.70" y="620.67" font-size="3.2" fill="#9a9a9a" text-anchor="end" transform="rotate(-30 27.70 619.67)">10</text>
<text x="70.17" y="662.80" font-size="3.2" fill="#9a9a9a" text-anchor="end" transform="rotate(-30 69.17 662.20)">10</text>
<text x="27.70" y="607.50" font-size="3.2" fill="#9a9a9a" text-anchor="end" transform="rotate(-30 27.70 606.50)">10</text>
<text x="83.60" y="662.80" font-size="3.2" fill="#9a9a9a" text-anchor="end" transform="rotate(-30 82.60 662.20)">10</text>
<rect x="28.90" y="606.50" width="53.70" height="52.70" fill="#fff" stroke="#a2a2ac" stroke-width="0.9"/>
<clipPath id="cl8"><rect x="29.30" y="606.90" width="52.90" height="51.90"/></clipPath>
<g clip-path="url(#cl8)">
<ellipse cx="34.30" cy="651.70" rx="7.20" ry="5.50" fill="#b4b0ec" opacity="0.55" filter="url(#blur3)"/>
<path d="M27.90,649.20 L34.30,648.70 L40.90,653.20 L41.14,660.20 L27.90,660.20 Z" fill="#4050e6" opacity="0.9" filter="url(#blur1)"/>
<path d="M27.90,651.20 L34.30,650.70 L39.70,654.70 L39.70,660.20 L27.90,660.20 Z" fill="#1424d4" opacity="1.0" filter="url(#blur2)"/>
<ellipse cx="32.86" cy="658.20" rx="2.60" ry="2.00" fill="#78cce8" opacity="1.0" filter="url(#blur2)"/>
<ellipse cx="32.86" cy="658.60" rx="1.50" ry="1.10" fill="#96e07a" opacity="1.0" filter="url(#blur2)"/>
</g>
<rect x="29.90" y="627.50" width="14.20" height="19.70" fill="none" stroke="#bc98cc" stroke-width="0.8"/>
<path d="M41.70,659.20 L58.40,642.30 L61.10,642.30 L61.10,659.20 Z" fill="none" stroke="#bc98cc" stroke-width="0.8"/>
<text x="37.20" y="638.55" font-size="3.7" font-weight="bold" text-anchor="middle" fill="#222">0.11</text>
<text x="51.90" y="652.25" font-size="3.7" font-weight="bold" text-anchor="middle" fill="#222">0</text>
<text x="90.20" y="583.60" font-size="3.2" fill="#9a9a9a" text-anchor="end" transform="rotate(-30 90.20 582.60)">10</text>
<text x="92.40" y="586.20" font-size="3.2" fill="#9a9a9a" text-anchor="end" transform="rotate(-30 91.40 585.60)">10</text>
<text x="90.20" y="570.27" font-size="3.2" fill="#9a9a9a" text-anchor="end" transform="rotate(-30 90.20 569.27)">10</text>
<text x="105.70" y="586.20" font-size="3.2" fill="#9a9a9a" text-anchor="end" transform="rotate(-30 104.70 585.60)">10</text>
<text x="90.20" y="556.95" font-size="3.2" fill="#9a9a9a" text-anchor="end" transform="rotate(-30 90.20 555.95)">10</text>
<text x="119.00" y="586.20" font-size="3.2" fill="#9a9a9a" text-anchor="end" transform="rotate(-30 118.00 585.60)">10</text>
<text x="90.20" y="543.62" font-size="3.2" fill="#9a9a9a" text-anchor="end" transform="rotate(-30 90.20 542.62)">10</text>
<text x="132.30" y="586.20" font-size="3.2" fill="#9a9a9a" text-anchor="end" transform="rotate(-30 131.30 585.60)">10</text>
<text x="90.20" y="530.30" font-size="3.2" fill="#9a9a9a" text-anchor="end" transform="rotate(-30 90.20 529.30)">10</text>
<text x="145.60" y="586.20" font-size="3.2" fill="#9a9a9a" text-anchor="end" transform="rotate(-30 144.60 585.60)">10</text>
<rect x="91.40" y="529.30" width="53.20" height="53.30" fill="#fff" stroke="#a2a2ac" stroke-width="0.9"/>
<clipPath id="cl9"><rect x="91.80" y="529.70" width="52.40" height="52.50"/></clipPath>
<g clip-path="url(#cl9)">
<ellipse cx="96.40" cy="560.00" rx="4.00" ry="7.00" fill="#b4b0ec" opacity="0.35" filter="url(#blur3)"/>
<ellipse cx="96.40" cy="561.00" rx="4.50" ry="8.00" fill="#6a70e4" opacity="0.5" filter="url(#speck)"/>
<ellipse cx="96.58" cy="575.48" rx="6.90" ry="5.23" fill="#b4b0ec" opacity="0.55" filter="url(#blur3)"/>
<path d="M90.40,573.10 L96.58,572.62 L102.90,576.90 L103.13,583.60 L90.40,583.60 Z" fill="#4050e6" opacity="0.9" filter="url(#blur1)"/>
<path d="M90.40,575.00 L96.58,574.52 L101.75,578.33 L101.75,583.60 L90.40,583.60 Z" fill="#1424d4" opacity="1.0" filter="url(#blur2)"/>
<ellipse cx="95.20" cy="581.60" rx="2.60" ry="2.00" fill="#78cce8" opacity="1.0" filter="url(#blur2)"/>
<ellipse cx="95.20" cy="582.00" rx="1.50" ry="1.10" fill="#96e07a" opacity="1.0" filter="url(#blur2)"/>
</g>
<rect x="92.00" y="548.20" width="13.40" height="21.90" fill="none" stroke="#bc98cc" stroke-width="0.8"/>
<rect x="105.40" y="548.20" width="14.40" height="21.90" fill="none" stroke="#bc98cc" stroke-width="0.8"/>
<text x="99.20" y="559.85" font-size="3.7" font-weight="bold" text-anchor="middle" fill="#222">2.6</text>
<text x="112.60" y="559.85" font-size="3.7" font-weight="bold" text-anchor="middle" fill="#222">0.071</text>
<text x="90.20" y="660.20" font-size="3.2" fill="#9a9a9a" text-anchor="end" transform="rotate(-30 90.20 659.20)">10</text>
<text x="92.40" y="662.80" font-size="3.2" fill="#9a9a9a" text-anchor="end" transform="rotate(-30 91.40 662.20)">10</text>
<text x="90.20" y="647.03" font-size="3.2" fill="#9a9a9a" text-anchor="end" transform="rotate(-30 90.20 646.03)">10</text>
<text x="105.70" y="662.80" font-size="3.2" fill="#9a9a9a" text-anchor="end" transform="rotate(-30 104.70 662.20)">10</text>
<text x="90.20" y="633.85" font-size="3.2" fill="#9a9a9a" text-anchor="end" transform="rotate(-30 90.20 632.85)">10</text>
<text x="119.00" y="662.80" font-size="3.2" fill="#9a9a9a" text-anchor="end" transform="rotate(-30 118.00 662.20)">10</text>
<text x="90.20" y="620.67" font-size="3.2" fill="#9a9a9a" text-anchor="end" transform="rotate(-30 90.20 619.67)">10</text>
<text x="132.30" y="662.80" font-size="3.2" fill="#9a9a9a" text-anchor="end" transform="rotate(-30 131.30 662.20)">10</text>
<text x="90.20" y="607.50" font-size="3.2" fill="#9a9a9a" text-anchor="end" transform="rotate(-30 90.20 606.50)">10</text>
<text x="145.60" y="662.80" font-size="3.2" fill="#9a9a9a" text-anchor="end" transform="rotate(-30 144.60 662.20)">10</text>
<rect x="91.40" y="606.50" width="53.20" height="52.70" fill="#fff" stroke="#a2a2ac" stroke-width="0.9"/>
<clipPath id="cl10"><rect x="91.80" y="606.90" width="52.40" height="51.90"/></clipPath>
<g clip-path="url(#cl10)">
<ellipse cx="96.40" cy="636.00" rx="4.00" ry="7.00" fill="#b4b0ec" opacity="0.35" filter="url(#blur3)"/>
<ellipse cx="96.40" cy="636.00" rx="4.50" ry="8.00" fill="#6a70e4" opacity="0.5" filter="url(#speck)"/>
<ellipse cx="97.25" cy="650.95" rx="7.80" ry="6.05" fill="#b4b0ec" opacity="0.55" filter="url(#blur3)"/>
<path d="M90.40,648.20 L97.25,647.65 L104.40,652.60 L104.66,660.20 L90.40,660.20 Z" fill="#4050e6" opacity="0.9" filter="url(#blur1)"/>
<path d="M90.40,650.40 L97.25,649.85 L103.10,654.25 L103.10,660.20 L90.40,660.20 Z" fill="#1424d4" opacity="1.0" filter="url(#blur2)"/>
<ellipse cx="95.69" cy="658.20" rx="2.60" ry="2.00" fill="#78cce8" opacity="1.0" filter="url(#blur2)"/>
<ellipse cx="95.69" cy="658.60" rx="1.50" ry="1.10" fill="#96e07a" opacity="1.0" filter="url(#blur2)"/>
</g>
<rect x="92.40" y="627.50" width="14.20" height="19.70" fill="none" stroke="#bc98cc" stroke-width="0.8"/>
<path d="M104.20,659.20 L120.90,642.30 L123.60,642.30 L123.60,659.20 Z" fill="none" stroke="#bc98cc" stroke-width="0.8"/>
<text x="99.70" y="638.55" font-size="3.7" font-weight="bold" text-anchor="middle" fill="#222">1.91</text>
<text x="114.40" y="652.25" font-size="3.7" font-weight="bold" text-anchor="middle" fill="#222">0.017</text>
<text x="152.80" y="583.60" font-size="3.2" fill="#9a9a9a" text-anchor="end" transform="rotate(-30 152.80 582.60)">10</text>
<text x="155.00" y="586.20" font-size="3.2" fill="#9a9a9a" text-anchor="end" transform="rotate(-30 154.00 585.60)">10</text>
<text x="152.80" y="570.27" font-size="3.2" fill="#9a9a9a" text-anchor="end" transform="rotate(-30 152.80 569.27)">10</text>
<text x="168.25" y="586.20" font-size="3.2" fill="#9a9a9a" text-anchor="end" transform="rotate(-30 167.25 585.60)">10</text>
<text x="152.80" y="556.95" font-size="3.2" fill="#9a9a9a" text-anchor="end" transform="rotate(-30 152.80 555.95)">10</text>
<text x="181.50" y="586.20" font-size="3.2" fill="#9a9a9a" text-anchor="end" transform="rotate(-30 180.50 585.60)">10</text>
<text x="152.80" y="543.62" font-size="3.2" fill="#9a9a9a" text-anchor="end" transform="rotate(-30 152.80 542.62)">10</text>
<text x="194.75" y="586.20" font-size="3.2" fill="#9a9a9a" text-anchor="end" transform="rotate(-30 193.75 585.60)">10</text>
<text x="152.80" y="530.30" font-size="3.2" fill="#9a9a9a" text-anchor="end" transform="rotate(-30 152.80 529.30)">10</text>
<text x="208.00" y="586.20" font-size="3.2" fill="#9a9a9a" text-anchor="end" transform="rotate(-30 207.00 585.60)">10</text>
<rect x="154.00" y="529.30" width="53.00" height="53.30" fill="#fff" stroke="#a2a2ac" stroke-width="0.9"/>
<clipPath id="cl11"><rect x="154.40" y="529.70" width="52.20" height="52.50"/></clipPath>
<g clip-path="url(#cl11)">
<ellipse cx="158.72" cy="576.60" rx="6.30" ry="4.40" fill="#b4b0ec" opacity="0.55" filter="url(#blur3)"/>
<path d="M153.00,574.60 L158.72,574.20 L164.50,577.80 L164.71,583.60 L153.00,583.60 Z" fill="#4050e6" opacity="0.9" filter="url(#blur1)"/>
<path d="M153.00,576.20 L158.72,575.80 L163.45,579.00 L163.45,583.60 L153.00,583.60 Z" fill="#1424d4" opacity="1.0" filter="url(#blur2)"/>
<ellipse cx="157.47" cy="581.60" rx="2.60" ry="2.00" fill="#78cce8" opacity="1.0" filter="url(#blur2)"/>
<ellipse cx="157.47" cy="582.00" rx="1.50" ry="1.10" fill="#96e07a" opacity="1.0" filter="url(#blur2)"/>
</g>
<rect x="154.60" y="548.20" width="13.40" height="21.90" fill="none" stroke="#bc98cc" stroke-width="0.8"/>
<rect x="168.00" y="548.20" width="14.40" height="21.90" fill="none" stroke="#bc98cc" stroke-width="0.8"/>
<text x="161.80" y="559.85" font-size="3.7" font-weight="bold" text-anchor="middle" fill="#222">0.18</text>
<text x="175.20" y="559.85" font-size="3.7" font-weight="bold" text-anchor="middle" fill="#222">0</text>
<text x="152.80" y="660.20" font-size="3.2" fill="#9a9a9a" text-anchor="end" transform="rotate(-30 152.80 659.20)">10</text>
<text x="155.00" y="662.80" font-size="3.2" fill="#9a9a9a" text-anchor="end" transform="rotate(-30 154.00 662.20)">10</text>
<text x="152.80" y="647.03" font-size="3.2" fill="#9a9a9a" text-anchor="end" transform="rotate(-30 152.80 646.03)">10</text>
<text x="168.25" y="662.80" font-size="3.2" fill="#9a9a9a" text-anchor="end" transform="rotate(-30 167.25 662.20)">10</text>
<text x="152.80" y="633.85" font-size="3.2" fill="#9a9a9a" text-anchor="end" transform="rotate(-30 152.80 632.85)">10</text>
<text x="181.50" y="662.80" font-size="3.2" fill="#9a9a9a" text-anchor="end" transform="rotate(-30 180.50 662.20)">10</text>
<text x="152.80" y="620.67" font-size="3.2" fill="#9a9a9a" text-anchor="end" transform="rotate(-30 152.80 619.67)">10</text>
<text x="194.75" y="662.80" font-size="3.2" fill="#9a9a9a" text-anchor="end" transform="rotate(-30 193.75 662.20)">10</text>
<text x="152.80" y="607.50" font-size="3.2" fill="#9a9a9a" text-anchor="end" transform="rotate(-30 152.80 606.50)">10</text>
<text x="208.00" y="662.80" font-size="3.2" fill="#9a9a9a" text-anchor="end" transform="rotate(-30 207.00 662.20)">10</text>
<rect x="154.00" y="606.50" width="53.00" height="52.70" fill="#fff" stroke="#a2a2ac" stroke-width="0.9"/>
<clipPath id="cl12"><rect x="154.40" y="606.90" width="52.20" height="51.90"/></clipPath>
<g clip-path="url(#cl12)">
<ellipse cx="159.40" cy="651.70" rx="7.20" ry="5.50" fill="#b4b0ec" opacity="0.55" filter="url(#blur3)"/>
<path d="M153.00,649.20 L159.40,648.70 L166.00,653.20 L166.24,660.20 L153.00,660.20 Z" fill="#4050e6" opacity="0.9" filter="url(#blur1)"/>
<path d="M153.00,651.20 L159.40,650.70 L164.80,654.70 L164.80,660.20 L153.00,660.20 Z" fill="#1424d4" opacity="1.0" filter="url(#blur2)"/>
<ellipse cx="157.96" cy="658.20" rx="2.60" ry="2.00" fill="#78cce8" opacity="1.0" filter="url(#blur2)"/>
<ellipse cx="157.96" cy="658.60" rx="1.50" ry="1.10" fill="#96e07a" opacity="1.0" filter="url(#blur2)"/>
</g>
<rect x="155.00" y="627.50" width="14.20" height="19.70" fill="none" stroke="#bc98cc" stroke-width="0.8"/>
<path d="M166.80,659.20 L183.50,642.30 L186.20,642.30 L186.20,659.20 Z" fill="none" stroke="#bc98cc" stroke-width="0.8"/>
<text x="162.30" y="638.55" font-size="3.7" font-weight="bold" text-anchor="middle" fill="#222">0.11</text>
<text x="177.00" y="652.25" font-size="3.7" font-weight="bold" text-anchor="middle" fill="#222">6.02e-3</text>
</svg>
</body></html>
